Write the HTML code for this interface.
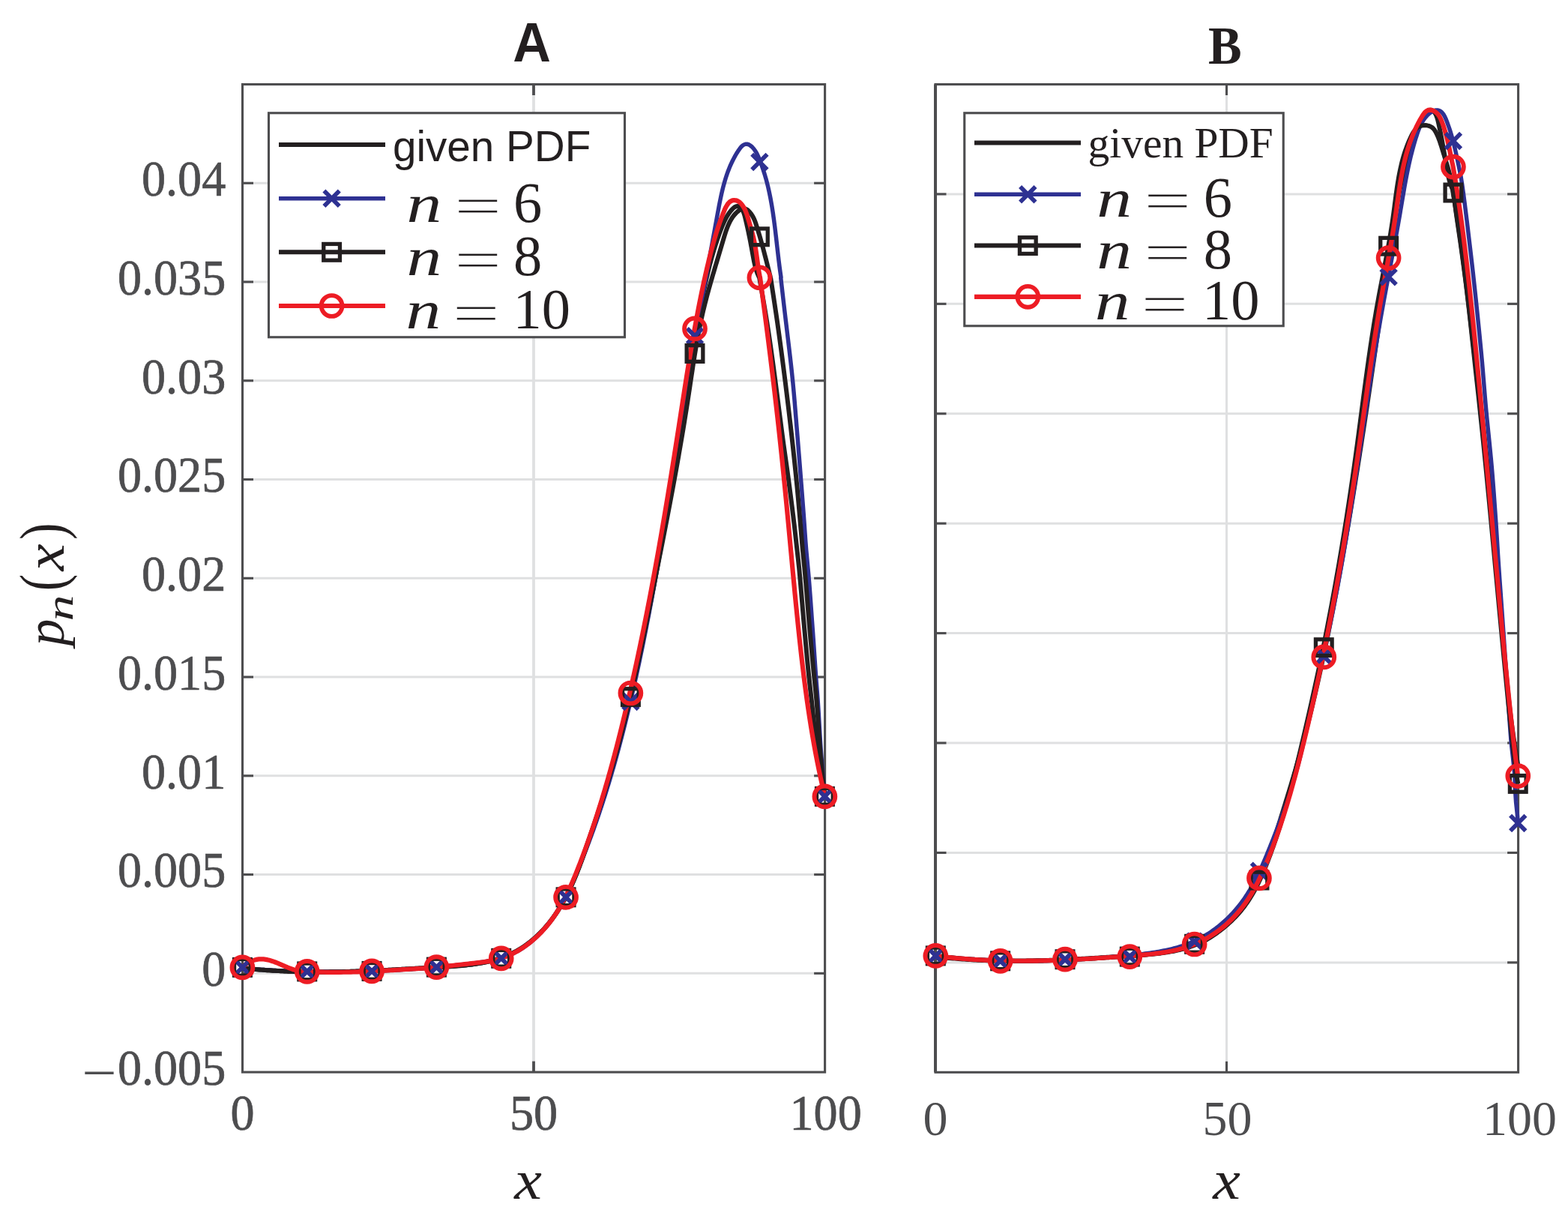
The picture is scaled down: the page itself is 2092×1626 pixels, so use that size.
<!DOCTYPE html>
<html lang="en">
<head>
<meta charset="utf-8">
<title>Figure: given PDF and approximations p_n(x), panels A and B</title>
<style>
html,body{margin:0;padding:0;background:#fff;}
svg{display:block;}
text{white-space:pre;}
</style>
</head>
<body>
<svg xmlns="http://www.w3.org/2000/svg" width="2092" height="1626" viewBox="0 0 2092 1626">
<rect width="2092" height="1626" fill="#fff"/>
<g>
<line x1="323.5" y1="1298.34" x2="1100.6" y2="1298.34" stroke="#dfe0e1" stroke-width="3"/>
<line x1="323.5" y1="1166.58" x2="1100.6" y2="1166.58" stroke="#dfe0e1" stroke-width="3"/>
<line x1="323.5" y1="1034.82" x2="1100.6" y2="1034.82" stroke="#dfe0e1" stroke-width="3"/>
<line x1="323.5" y1="903.06" x2="1100.6" y2="903.06" stroke="#dfe0e1" stroke-width="3"/>
<line x1="323.5" y1="771.3" x2="1100.6" y2="771.3" stroke="#dfe0e1" stroke-width="3"/>
<line x1="323.5" y1="639.54" x2="1100.6" y2="639.54" stroke="#dfe0e1" stroke-width="3"/>
<line x1="323.5" y1="507.78" x2="1100.6" y2="507.78" stroke="#dfe0e1" stroke-width="3"/>
<line x1="323.5" y1="376.02" x2="1100.6" y2="376.02" stroke="#dfe0e1" stroke-width="3"/>
<line x1="323.5" y1="244.26" x2="1100.6" y2="244.26" stroke="#dfe0e1" stroke-width="3"/>
<line x1="712" y1="112.5" x2="712" y2="1430.1" stroke="#dfe0e1" stroke-width="3.8"/>
<line x1="323.5" y1="1298.34" x2="338" y2="1298.34" stroke="#4d4d4f" stroke-width="3.1"/>
<line x1="1100.6" y1="1298.34" x2="1086.1" y2="1298.34" stroke="#4d4d4f" stroke-width="3.1"/>
<line x1="323.5" y1="1166.58" x2="338" y2="1166.58" stroke="#4d4d4f" stroke-width="3.1"/>
<line x1="1100.6" y1="1166.58" x2="1086.1" y2="1166.58" stroke="#4d4d4f" stroke-width="3.1"/>
<line x1="323.5" y1="1034.82" x2="338" y2="1034.82" stroke="#4d4d4f" stroke-width="3.1"/>
<line x1="1100.6" y1="1034.82" x2="1086.1" y2="1034.82" stroke="#4d4d4f" stroke-width="3.1"/>
<line x1="323.5" y1="903.06" x2="338" y2="903.06" stroke="#4d4d4f" stroke-width="3.1"/>
<line x1="1100.6" y1="903.06" x2="1086.1" y2="903.06" stroke="#4d4d4f" stroke-width="3.1"/>
<line x1="323.5" y1="771.3" x2="338" y2="771.3" stroke="#4d4d4f" stroke-width="3.1"/>
<line x1="1100.6" y1="771.3" x2="1086.1" y2="771.3" stroke="#4d4d4f" stroke-width="3.1"/>
<line x1="323.5" y1="639.54" x2="338" y2="639.54" stroke="#4d4d4f" stroke-width="3.1"/>
<line x1="1100.6" y1="639.54" x2="1086.1" y2="639.54" stroke="#4d4d4f" stroke-width="3.1"/>
<line x1="323.5" y1="507.78" x2="338" y2="507.78" stroke="#4d4d4f" stroke-width="3.1"/>
<line x1="1100.6" y1="507.78" x2="1086.1" y2="507.78" stroke="#4d4d4f" stroke-width="3.1"/>
<line x1="323.5" y1="376.02" x2="338" y2="376.02" stroke="#4d4d4f" stroke-width="3.1"/>
<line x1="1100.6" y1="376.02" x2="1086.1" y2="376.02" stroke="#4d4d4f" stroke-width="3.1"/>
<line x1="323.5" y1="244.26" x2="338" y2="244.26" stroke="#4d4d4f" stroke-width="3.1"/>
<line x1="1100.6" y1="244.26" x2="1086.1" y2="244.26" stroke="#4d4d4f" stroke-width="3.1"/>
<line x1="712" y1="112.5" x2="712" y2="127" stroke="#4d4d4f" stroke-width="3.8"/>
<line x1="712" y1="1430.1" x2="712" y2="1415.6" stroke="#4d4d4f" stroke-width="3.8"/>
<rect x="323.5" y="112.5" width="777.1" height="1317.6" fill="none" stroke="#4d4d4f" stroke-width="3.1"/>
</g>
<path d="M323.2 1291.25 L325.79 1291.52 L328.37 1291.79 L330.95 1292.05 L333.53 1292.3 L336.11 1292.54 L338.69 1292.77 L341.26 1292.99 L343.83 1293.21 L346.4 1293.42 L348.97 1293.62 L351.53 1293.81 L354.1 1294 L356.66 1294.18 L359.22 1294.35 L361.78 1294.51 L364.34 1294.66 L366.89 1294.81 L369.45 1294.95 L372 1295.09 L374.55 1295.21 L377.1 1295.34 L379.65 1295.45 L382.2 1295.56 L384.75 1295.66 L387.29 1295.75 L389.84 1295.84 L392.38 1295.92 L394.92 1295.99 L397.47 1296.06 L400.01 1296.12 L402.55 1296.18 L405.08 1296.23 L407.62 1296.28 L410.16 1296.32 L412.7 1296.35 L415.23 1296.38 L417.77 1296.4 L420.3 1296.42 L422.83 1296.43 L425.37 1296.43 L427.9 1296.43 L430.43 1296.43 L432.96 1296.42 L435.5 1296.41 L438.03 1296.39 L440.56 1296.37 L443.09 1296.34 L445.62 1296.31 L448.15 1296.27 L450.68 1296.23 L453.21 1296.18 L455.74 1296.13 L458.27 1296.08 L460.8 1296.02 L463.33 1295.96 L465.86 1295.9 L468.4 1295.83 L470.93 1295.76 L473.46 1295.68 L475.99 1295.6 L478.52 1295.52 L481.05 1295.43 L483.59 1295.34 L486.12 1295.25 L488.66 1295.15 L491.19 1295.05 L493.73 1294.95 L496.26 1294.85 L498.8 1294.74 L501.34 1294.63 L503.88 1294.52 L506.42 1294.4 L508.96 1294.28 L511.5 1294.16 L514.04 1294.04 L516.58 1293.92 L519.13 1293.79 L521.67 1293.66 L524.22 1293.53 L526.77 1293.4 L529.32 1293.27 L531.87 1293.13 L534.42 1293 L536.97 1292.86 L539.53 1292.72 L542.08 1292.58 L544.64 1292.44 L547.2 1292.3 L549.76 1292.15 L552.32 1292.01 L554.89 1291.86 L557.45 1291.72 L560.02 1291.57 L562.59 1291.43 L565.16 1291.28 L567.73 1291.13 L570.31 1290.98 L572.88 1290.83 L575.46 1290.68 L578.04 1290.54 L580.63 1290.39 L583.21 1290.24 L585.8 1290.09 L588.39 1289.94 L590.98 1289.79 L593.57 1289.63 L596.16 1289.47 L598.75 1289.31 L601.34 1289.13 L603.93 1288.95 L606.51 1288.76 L609.09 1288.56 L611.67 1288.34 L614.25 1288.12 L616.82 1287.88 L619.39 1287.62 L621.95 1287.35 L624.5 1287.06 L627.05 1286.76 L629.6 1286.43 L632.13 1286.08 L634.66 1285.71 L637.18 1285.32 L639.69 1284.9 L642.19 1284.45 L644.68 1283.98 L647.16 1283.49 L649.63 1282.96 L652.09 1282.4 L654.54 1281.81 L656.97 1281.19 L659.4 1280.54 L661.8 1279.85 L664.2 1279.12 L666.58 1278.36 L668.94 1277.56 L671.29 1276.72 L673.62 1275.84 L675.94 1274.92 L678.24 1273.95 L680.52 1272.94 L682.78 1271.89 L685.02 1270.79 L687.25 1269.64 L689.45 1268.45 L691.64 1267.2 L693.8 1265.91 L695.95 1264.57 L698.07 1263.18 L700.17 1261.76 L702.24 1260.29 L704.29 1258.77 L706.32 1257.22 L708.33 1255.63 L710.31 1254.01 L712.26 1252.34 L714.19 1250.65 L716.09 1248.92 L717.96 1247.16 L719.8 1245.36 L721.62 1243.54 L723.41 1241.69 L725.17 1239.81 L726.9 1237.91 L728.6 1235.99 L730.26 1234.04 L731.9 1232.07 L733.51 1230.08 L735.08 1228.07 L736.62 1226.04 L738.13 1223.99 L739.62 1221.92 L741.07 1219.84 L742.5 1217.74 L743.89 1215.62 L745.26 1213.48 L746.61 1211.33 L747.93 1209.17 L749.22 1206.99 L750.5 1204.79 L751.74 1202.58 L752.97 1200.36 L754.17 1198.12 L755.35 1195.87 L756.51 1193.61 L757.65 1191.33 L758.77 1189.05 L759.87 1186.75 L760.95 1184.44 L762.01 1182.13 L763.06 1179.8 L764.09 1177.46 L765.11 1175.12 L766.11 1172.77 L767.09 1170.41 L768.07 1168.04 L769.02 1165.66 L769.97 1163.28 L770.91 1160.89 L771.83 1158.5 L772.74 1156.1 L773.65 1153.7 L774.54 1151.3 L775.43 1148.89 L776.31 1146.47 L777.18 1144.06 L778.04 1141.64 L778.9 1139.22 L779.75 1136.8 L780.6 1134.37 L781.45 1131.95 L782.29 1129.53 L783.13 1127.1 L783.96 1124.68 L784.8 1122.26 L785.63 1119.84 L786.47 1117.43 L787.3 1115.01 L788.14 1112.6 L788.97 1110.18 L789.8 1107.77 L790.62 1105.36 L791.45 1102.95 L792.28 1100.54 L793.1 1098.13 L793.92 1095.72 L794.74 1093.31 L795.55 1090.9 L796.37 1088.5 L797.18 1086.09 L797.98 1083.68 L798.79 1081.27 L799.59 1078.86 L800.39 1076.45 L801.18 1074.04 L801.97 1071.62 L802.76 1069.21 L803.54 1066.79 L804.32 1064.38 L805.09 1061.96 L805.86 1059.54 L806.63 1057.12 L807.39 1054.69 L808.15 1052.27 L808.9 1049.84 L809.65 1047.41 L810.39 1044.98 L811.13 1042.55 L811.87 1040.12 L812.6 1037.68 L813.33 1035.25 L814.05 1032.81 L814.77 1030.37 L815.48 1027.93 L816.19 1025.48 L816.9 1023.04 L817.6 1020.59 L818.3 1018.15 L819 1015.7 L819.69 1013.25 L820.38 1010.8 L821.06 1008.34 L821.74 1005.89 L822.42 1003.43 L823.09 1000.98 L823.76 998.52 L824.42 996.06 L825.09 993.6 L825.75 991.14 L826.4 988.67 L827.05 986.21 L827.7 983.75 L828.35 981.28 L828.99 978.81 L829.63 976.34 L830.26 973.87 L830.89 971.4 L831.52 968.93 L832.15 966.46 L832.77 963.99 L833.39 961.51 L834.01 959.04 L834.62 956.56 L835.23 954.08 L835.84 951.6 L836.45 949.12 L837.05 946.64 L837.65 944.16 L838.25 941.68 L838.84 939.2 L839.43 936.72 L840.02 934.23 L840.61 931.75 L841.19 929.26 L841.77 926.78 L842.35 924.29 L842.93 921.81 L843.5 919.32 L844.07 916.83 L844.64 914.34 L845.21 911.85 L845.78 909.36 L846.34 906.87 L846.9 904.38 L847.46 901.89 L848.01 899.4 L848.57 896.91 L849.12 894.41 L849.67 891.92 L850.22 889.43 L850.76 886.93 L851.31 884.44 L851.85 881.95 L852.39 879.45 L852.93 876.96 L853.46 874.46 L854 871.97 L854.53 869.47 L855.06 866.98 L855.59 864.48 L856.12 861.98 L856.65 859.49 L857.17 856.99 L857.69 854.49 L858.22 852 L858.73 849.5 L859.25 847 L859.77 844.5 L860.28 842 L860.79 839.5 L861.31 837.01 L861.81 834.51 L862.32 832.01 L862.83 829.51 L863.33 827.01 L863.84 824.51 L864.34 822.01 L864.84 819.5 L865.33 817 L865.83 814.5 L866.33 812 L866.82 809.5 L867.31 807 L867.8 804.5 L868.29 801.99 L868.78 799.49 L869.27 796.99 L869.75 794.48 L870.23 791.98 L870.72 789.48 L871.2 786.97 L871.68 784.47 L872.15 781.97 L872.63 779.46 L873.11 776.96 L873.58 774.45 L874.05 771.95 L874.52 769.44 L874.99 766.94 L875.46 764.43 L875.93 761.92 L876.4 759.42 L876.86 756.91 L877.32 754.41 L877.79 751.9 L878.25 749.39 L878.71 746.89 L879.17 744.38 L879.62 741.87 L880.08 739.36 L880.54 736.86 L880.99 734.35 L881.44 731.84 L881.9 729.33 L882.35 726.82 L882.8 724.32 L883.25 721.81 L883.69 719.3 L884.14 716.79 L884.59 714.28 L885.03 711.77 L885.47 709.26 L885.92 706.75 L886.36 704.24 L886.8 701.73 L887.24 699.22 L887.68 696.71 L888.12 694.2 L888.55 691.69 L888.99 689.18 L889.42 686.67 L889.86 684.16 L890.29 681.65 L890.72 679.14 L891.16 676.62 L891.59 674.11 L892.02 671.6 L892.45 669.09 L892.87 666.58 L893.3 664.07 L893.73 661.55 L894.16 659.04 L894.58 656.53 L895.01 654.02 L895.43 651.5 L895.85 648.99 L896.28 646.48 L896.7 643.97 L897.12 641.45 L897.54 638.94 L897.96 636.43 L898.38 633.91 L898.8 631.4 L899.22 628.89 L899.63 626.37 L900.05 623.86 L900.47 621.35 L900.88 618.83 L901.3 616.32 L901.71 613.8 L902.13 611.29 L902.54 608.78 L902.95 606.26 L903.37 603.75 L903.78 601.23 L904.19 598.72 L904.6 596.21 L905.01 593.69 L905.42 591.18 L905.83 588.66 L906.24 586.15 L906.65 583.63 L907.06 581.12 L907.47 578.6 L907.88 576.09 L908.29 573.57 L908.69 571.06 L909.1 568.54 L909.51 566.03 L909.91 563.51 L910.32 561 L910.73 558.48 L911.13 555.97 L911.54 553.45 L911.94 550.94 L912.35 548.42 L912.75 545.91 L913.16 543.39 L913.56 540.88 L913.97 538.36 L914.37 535.85 L914.78 533.33 L915.18 530.82 L915.59 528.3 L915.99 525.79 L916.39 523.27 L916.8 520.75 L917.2 518.24 L917.61 515.72 L918.01 513.21 L918.41 510.69 L918.82 508.18 L919.22 505.66 L919.62 503.15 L920.03 500.63 L920.43 498.12 L920.84 495.6 L921.24 493.09 L921.64 490.57 L922.05 488.06 L922.45 485.54 L922.86 483.03 L923.26 480.51 L923.67 478 L924.07 475.48 L924.47 472.97 L924.88 470.45 L925.29 467.94 L925.69 465.42 L926.1 462.91 L926.5 460.39 L926.91 457.88 L927.32 455.36 L927.72 452.85 L928.13 450.33 L928.54 447.82 L928.94 445.3 L929.35 442.79 L929.76 440.28 L930.17 437.76 L930.59 435.25 L931 432.73 L931.42 430.22 L931.84 427.71 L932.26 425.2 L932.68 422.69 L933.11 420.18 L933.54 417.67 L933.98 415.16 L934.42 412.65 L934.86 410.14 L935.31 407.64 L935.77 405.13 L936.23 402.63 L936.7 400.13 L937.17 397.62 L937.65 395.12 L938.14 392.63 L938.63 390.13 L939.13 387.63 L939.64 385.14 L940.15 382.64 L940.68 380.15 L941.21 377.66 L941.75 375.18 L942.3 372.69 L942.86 370.21 L943.43 367.72 L944.01 365.24 L944.6 362.77 L945.2 360.29 L945.81 357.82 L946.44 355.35 L947.07 352.88 L947.72 350.41 L948.38 347.95 L949.05 345.48 L949.73 343.03 L950.43 340.57 L951.14 338.11 L951.86 335.66 L952.6 333.22 L953.35 330.77 L954.12 328.33 L954.9 325.89 L955.7 323.45 L956.51 321.02 L957.33 318.59 L958.18 316.16 L959.04 313.74 L959.92 311.32 L960.81 308.9 L961.72 306.49 L962.65 304.08 L963.61 301.68 L964.6 299.3 L965.64 296.94 L966.72 294.6 L967.87 292.3 L969.08 290.04 L970.38 287.83 L971.75 285.67 L973.22 283.56 L974.79 281.52 L976.48 279.55 L978.26 277.75 L980.11 276.27 L982.01 275.31 L983.93 275.02 L985.83 275.48 L987.62 276.58 L989.23 278.19 L990.59 280.19 L991.73 282.5 L992.69 285.04 L993.51 287.73 L994.24 290.51 L994.9 293.28 L995.54 296 L996.15 298.67 L996.74 301.28 L997.32 303.85 L997.87 306.38 L998.41 308.87 L998.93 311.34 L999.44 313.78 L999.93 316.2 L1000.42 318.62 L1000.89 321.03 L1001.36 323.44 L1001.82 325.85 L1002.28 328.28 L1002.73 330.72 L1003.18 333.19 L1003.63 335.68 L1004.08 338.21 L1004.54 340.77 L1005.02 343.35 L1005.51 345.94 L1006.03 348.54 L1006.58 351.12 L1007.17 353.69 L1007.82 356.22 L1008.52 358.72 L1009.28 361.17 L1010.11 363.57 L1011.01 365.89 L1012 368.14 L1013.08 370.29 L1013.09 370.3 L1015.17 382.03 L1017.24 393.76 L1019.28 405.49 L1021.25 417.22 L1023.15 428.95 L1024.97 440.68 L1026.71 452.41 L1028.4 464.14 L1030.05 475.87 L1031.66 487.61 L1033.23 499.34 L1034.78 511.07 L1036.31 522.8 L1037.83 534.53 L1039.34 546.26 L1040.85 557.99 L1042.36 569.72 L1043.9 581.45 L1045.49 593.18 L1047.15 604.91 L1048.83 616.64 L1050.48 628.37 L1052.08 640.1 L1053.63 651.83 L1055.16 663.56 L1056.67 675.29 L1058.12 687.02 L1059.52 698.75 L1060.88 710.48 L1062.2 722.22 L1063.51 733.95 L1064.84 745.68 L1066.11 757.41 L1067.2 769.14 L1068.24 780.87 L1069.24 792.6 L1070.24 804.33 L1071.24 816.06 L1072.25 827.79 L1073.3 839.52 L1074.36 851.25 L1075.42 862.98 L1076.51 874.71 L1077.64 886.44 L1078.81 898.17 L1080.05 909.9 L1081.36 921.63 L1082.7 933.36 L1083.97 945.09 L1085.22 956.83 L1086.49 968.56 L1087.81 980.29 L1089.25 992.02 L1090.83 1003.75 L1092.53 1015.48 L1094.35 1027.21 L1096.29 1038.94 L1098.36 1050.67 L1100.56 1062.4" fill="none" stroke="#231f20" stroke-width="6" stroke-linejoin="round" stroke-linecap="butt"/>
<path d="M323.4 1291.53 L326.23 1291.76 L329.05 1291.99 L331.87 1292.21 L334.7 1292.42 L337.53 1292.63 L340.35 1292.84 L343.18 1293.03 L346.01 1293.23 L348.83 1293.41 L351.66 1293.59 L354.49 1293.76 L357.32 1293.93 L360.15 1294.09 L362.98 1294.25 L365.81 1294.4 L368.64 1294.54 L371.47 1294.68 L374.3 1294.82 L377.14 1294.94 L379.97 1295.06 L382.8 1295.18 L385.63 1295.29 L388.47 1295.39 L391.3 1295.49 L394.13 1295.59 L396.97 1295.67 L399.8 1295.76 L402.64 1295.83 L405.47 1295.9 L408.3 1295.97 L411.14 1296.03 L413.97 1296.08 L416.81 1296.13 L419.64 1296.17 L422.48 1296.21 L425.31 1296.24 L428.15 1296.27 L430.99 1296.29 L433.82 1296.31 L436.66 1296.32 L439.49 1296.33 L442.33 1296.33 L445.16 1296.32 L448 1296.31 L450.83 1296.3 L453.67 1296.27 L456.5 1296.25 L459.34 1296.22 L462.17 1296.18 L465.01 1296.14 L467.84 1296.09 L470.68 1296.04 L473.51 1295.99 L476.34 1295.92 L479.18 1295.86 L482.01 1295.79 L484.84 1295.71 L487.68 1295.63 L490.51 1295.54 L493.34 1295.45 L496.17 1295.35 L499.01 1295.25 L501.84 1295.15 L504.67 1295.03 L507.5 1294.92 L510.33 1294.8 L513.16 1294.67 L515.99 1294.54 L518.82 1294.4 L521.65 1294.26 L524.48 1294.12 L527.31 1293.97 L530.14 1293.81 L532.96 1293.65 L535.79 1293.49 L538.62 1293.32 L541.45 1293.14 L544.28 1292.96 L547.1 1292.77 L549.93 1292.58 L552.76 1292.39 L555.58 1292.19 L558.41 1291.98 L561.24 1291.77 L564.06 1291.56 L566.89 1291.34 L569.72 1291.11 L572.54 1290.88 L575.37 1290.65 L578.2 1290.41 L581.02 1290.16 L583.85 1289.91 L586.67 1289.65 L589.5 1289.39 L592.32 1289.13 L595.15 1288.86 L597.97 1288.58 L600.8 1288.3 L603.62 1288.01 L606.45 1287.72 L609.27 1287.43 L612.1 1287.13 L614.93 1286.82 L617.75 1286.51 L620.58 1286.19 L623.4 1285.87 L626.23 1285.54 L629.05 1285.21 L631.87 1284.87 L634.7 1284.51 L637.51 1284.14 L640.32 1283.75 L643.13 1283.33 L645.93 1282.89 L648.72 1282.42 L651.5 1281.92 L654.27 1281.39 L657.03 1280.81 L659.77 1280.19 L662.51 1279.53 L665.22 1278.81 L667.92 1278.05 L670.61 1277.23 L673.27 1276.35 L675.92 1275.41 L678.54 1274.4 L681.14 1273.33 L683.72 1272.18 L686.28 1270.96 L688.81 1269.66 L691.31 1268.29 L693.79 1266.83 L696.23 1265.3 L698.65 1263.71 L701.02 1262.05 L703.36 1260.34 L705.66 1258.58 L707.92 1256.77 L710.14 1254.91 L712.31 1253.03 L714.43 1251.1 L716.51 1249.15 L718.54 1247.16 L720.54 1245.13 L722.49 1243.08 L724.39 1241 L726.26 1238.89 L728.09 1236.75 L729.88 1234.58 L731.64 1232.38 L733.35 1230.16 L735.04 1227.92 L736.69 1225.65 L738.3 1223.35 L739.88 1221.03 L741.44 1218.69 L742.96 1216.33 L744.45 1213.95 L745.92 1211.55 L747.35 1209.13 L748.76 1206.69 L750.15 1204.24 L751.51 1201.77 L752.85 1199.28 L754.16 1196.78 L755.46 1194.26 L756.73 1191.73 L757.98 1189.19 L759.22 1186.64 L760.44 1184.08 L761.64 1181.5 L762.83 1178.92 L764 1176.33 L765.15 1173.73 L766.3 1171.13 L767.43 1168.52 L768.56 1165.9 L769.67 1163.29 L770.78 1160.66 L771.87 1158.04 L772.96 1155.41 L774.05 1152.78 L775.12 1150.15 L776.19 1147.51 L777.25 1144.88 L778.3 1142.24 L779.35 1139.6 L780.39 1136.95 L781.42 1134.31 L782.44 1131.66 L783.46 1129.01 L784.47 1126.35 L785.48 1123.7 L786.47 1121.04 L787.46 1118.38 L788.45 1115.72 L789.42 1113.06 L790.4 1110.39 L791.36 1107.72 L792.32 1105.06 L793.27 1102.38 L794.21 1099.71 L795.15 1097.03 L796.08 1094.36 L797 1091.68 L797.92 1088.99 L798.84 1086.31 L799.74 1083.63 L800.64 1080.94 L801.54 1078.25 L802.43 1075.56 L803.31 1072.87 L804.19 1070.17 L805.06 1067.48 L805.92 1064.78 L806.78 1062.08 L807.63 1059.38 L808.48 1056.67 L809.32 1053.97 L810.16 1051.26 L810.99 1048.55 L811.82 1045.84 L812.64 1043.13 L813.45 1040.42 L814.26 1037.71 L815.07 1034.99 L815.87 1032.27 L816.66 1029.55 L817.45 1026.83 L818.24 1024.11 L819.02 1021.39 L819.79 1018.66 L820.56 1015.94 L821.32 1013.21 L822.08 1010.48 L822.84 1007.75 L823.59 1005.02 L824.34 1002.29 L825.08 999.55 L825.81 996.82 L826.55 994.08 L827.27 991.34 L828 988.6 L828.72 985.86 L829.43 983.12 L830.14 980.38 L830.85 977.64 L831.55 974.89 L832.25 972.15 L832.94 969.4 L833.63 966.65 L834.32 963.91 L835 961.16 L835.68 958.41 L836.36 955.65 L837.03 952.9 L837.69 950.15 L838.36 947.39 L839.02 944.64 L839.67 941.88 L840.33 939.13 L840.98 936.37 L841.62 933.61 L842.27 930.85 L842.91 928.09 L843.54 925.33 L844.18 922.57 L844.81 919.81 L845.43 917.04 L846.06 914.28 L846.68 911.52 L847.3 908.75 L847.91 905.99 L848.52 903.22 L849.13 900.45 L849.74 897.68 L850.34 894.92 L850.94 892.15 L851.53 889.38 L852.13 886.61 L852.72 883.83 L853.31 881.06 L853.89 878.29 L854.47 875.52 L855.05 872.74 L855.63 869.97 L856.2 867.19 L856.77 864.42 L857.34 861.64 L857.91 858.87 L858.47 856.09 L859.03 853.31 L859.59 850.53 L860.15 847.75 L860.7 844.97 L861.25 842.19 L861.8 839.41 L862.35 836.63 L862.89 833.85 L863.43 831.07 L863.97 828.28 L864.51 825.5 L865.05 822.72 L865.58 819.93 L866.11 817.15 L866.64 814.36 L867.16 811.58 L867.69 808.79 L868.21 806 L868.73 803.22 L869.25 800.43 L869.76 797.64 L870.28 794.85 L870.79 792.06 L871.3 789.28 L871.81 786.49 L872.32 783.7 L872.82 780.91 L873.32 778.11 L873.82 775.32 L874.32 772.53 L874.82 769.74 L875.32 766.95 L875.81 764.16 L876.3 761.36 L876.8 758.57 L877.28 755.78 L877.77 752.98 L878.26 750.19 L878.74 747.39 L879.23 744.6 L879.71 741.8 L880.19 739.01 L880.67 736.21 L881.15 733.42 L881.62 730.62 L882.1 727.82 L882.57 725.03 L883.05 722.23 L883.52 719.43 L883.99 716.64 L884.46 713.84 L884.93 711.04 L885.39 708.24 L885.86 705.44 L886.33 702.65 L886.79 699.85 L887.25 697.05 L887.72 694.25 L888.18 691.45 L888.64 688.65 L889.1 685.85 L889.56 683.05 L890.01 680.25 L890.47 677.45 L890.93 674.65 L891.38 671.85 L891.84 669.05 L892.29 666.25 L892.75 663.45 L893.2 660.65 L893.65 657.85 L894.1 655.05 L894.55 652.25 L895.01 649.45 L895.46 646.65 L895.91 643.85 L896.36 641.05 L896.8 638.25 L897.25 635.45 L897.7 632.64 L898.15 629.84 L898.6 627.04 L899.05 624.24 L899.49 621.44 L899.94 618.64 L900.39 615.84 L900.83 613.04 L901.28 610.24 L901.73 607.44 L902.17 604.64 L902.62 601.84 L903.07 599.04 L903.51 596.24 L903.96 593.44 L904.41 590.64 L904.86 587.84 L905.3 585.04 L905.75 582.24 L906.2 579.44 L906.65 576.64 L907.09 573.84 L907.54 571.04 L907.99 568.24 L908.44 565.44 L908.89 562.64 L909.34 559.84 L909.79 557.05 L910.24 554.25 L910.69 551.45 L911.14 548.65 L911.6 545.85 L912.05 543.06 L912.5 540.26 L912.96 537.46 L913.41 534.67 L913.87 531.87 L914.32 529.07 L914.78 526.28 L915.24 523.48 L915.69 520.69 L916.15 517.89 L916.61 515.1 L917.08 512.3 L917.54 509.51 L918 506.71 L918.46 503.92 L918.93 501.13 L919.39 498.33 L919.86 495.54 L920.33 492.75 L920.8 489.96 L921.27 487.17 L921.74 484.38 L922.21 481.59 L922.69 478.79 L923.16 476 L923.64 473.21 L924.11 470.43 L924.59 467.64 L925.07 464.85 L925.55 462.06 L926.03 459.27 L926.51 456.48 L926.99 453.69 L927.48 450.91 L927.96 448.12 L928.45 445.33 L928.94 442.54 L929.42 439.76 L929.91 436.97 L930.4 434.18 L930.89 431.39 L931.38 428.61 L931.87 425.82 L932.37 423.03 L932.86 420.25 L933.35 417.46 L933.85 414.68 L934.34 411.89 L934.84 409.1 L935.34 406.32 L935.83 403.53 L936.33 400.74 L936.83 397.96 L937.33 395.17 L937.83 392.38 L938.33 389.6 L938.84 386.81 L939.34 384.02 L939.84 381.23 L940.34 378.45 L940.85 375.66 L941.35 372.87 L941.86 370.08 L942.36 367.3 L942.87 364.51 L943.38 361.72 L943.88 358.93 L944.39 356.14 L944.9 353.35 L945.41 350.56 L945.91 347.77 L946.42 344.98 L946.93 342.19 L947.44 339.4 L947.95 336.61 L948.46 333.82 L948.97 331.02 L949.49 328.23 L950 325.44 L950.51 322.65 L951.02 319.85 L951.53 317.06 L952.05 314.26 L952.56 311.47 L953.07 308.67 L953.58 305.88 L954.1 303.08 L954.61 300.28 L955.12 297.49 L955.64 294.69 L956.15 291.89 L956.67 289.09 L957.18 286.29 L957.69 283.49 L958.21 280.69 L958.73 277.89 L959.26 275.1 L959.8 272.3 L960.35 269.51 L960.91 266.72 L961.48 263.94 L962.08 261.16 L962.69 258.39 L963.33 255.63 L963.98 252.87 L964.67 250.12 L965.38 247.39 L966.12 244.66 L966.9 241.94 L967.71 239.24 L968.55 236.54 L969.43 233.86 L970.36 231.2 L971.32 228.54 L972.33 225.91 L973.39 223.29 L974.5 220.68 L975.66 218.1 L976.87 215.53 L978.13 212.98 L979.46 210.45 L980.84 207.94 L982.29 205.46 L983.79 202.99 L985.37 200.55 L987.02 198.21 L988.76 196.08 L990.59 194.3 L992.55 192.99 L994.63 192.26 L996.84 192.25 L999.15 192.96 L1001.43 194.31 L1003.62 196.2 L1005.66 198.51 L1007.53 201.09 L1009.18 203.8 L1010.63 206.57 L1011.92 209.37 L1013.07 212.17 L1014.14 214.96 L1015.15 217.7 L1016.12 220.39 L1017.06 223.04 L1017.96 225.67 L1018.83 228.29 L1019.67 230.92 L1020.48 233.55 L1021.26 236.2 L1022.02 238.87 L1022.75 241.54 L1023.45 244.23 L1024.13 246.93 L1024.79 249.65 L1025.42 252.37 L1026.03 255.1 L1026.61 257.85 L1027.18 260.6 L1027.73 263.36 L1028.26 266.13 L1028.77 268.91 L1029.26 271.69 L1029.74 274.49 L1030.2 277.29 L1030.65 280.09 L1031.08 282.9 L1031.5 285.72 L1031.9 288.54 L1032.3 291.36 L1032.68 294.19 L1033.06 297.02 L1033.42 299.85 L1033.78 302.69 L1034.13 305.53 L1034.48 308.37 L1034.81 311.21 L1035.15 314.05 L1035.48 316.89 L1035.8 319.72 L1036.13 322.56 L1036.45 325.4 L1036.77 328.23 L1037.09 331.06 L1037.41 333.89 L1037.74 336.72 L1038.06 339.54 L1038.39 342.35 L1038.72 345.16 L1039.06 347.97 L1039.41 350.77 L1039.76 353.56 L1040.12 356.35 L1040.49 359.13 L1040.86 361.9 L1041.25 364.66 L1041.65 367.42 L1042.05 370.16 L1041.69 370.3 L1043.03 382.03 L1044.38 393.76 L1045.74 405.49 L1047.12 417.22 L1048.52 428.95 L1049.93 440.68 L1051.35 452.41 L1052.76 464.14 L1054.14 475.87 L1055.48 487.61 L1056.75 499.34 L1057.93 511.07 L1059.03 522.8 L1060.06 534.53 L1061.04 546.26 L1062 557.99 L1062.96 569.72 L1063.93 581.45 L1064.9 593.18 L1065.85 604.91 L1066.79 616.64 L1067.72 628.37 L1068.64 640.1 L1069.56 651.83 L1070.47 663.56 L1071.38 675.29 L1072.27 687.02 L1073.14 698.75 L1073.94 710.48 L1074.77 722.22 L1075.72 733.95 L1076.82 745.68 L1077.91 757.41 L1078.98 769.14 L1079.95 780.87 L1080.85 792.6 L1081.71 804.33 L1082.54 816.06 L1083.38 827.79 L1084.25 839.52 L1085.09 851.25 L1085.9 862.98 L1086.69 874.71 L1087.49 886.44 L1088.32 898.17 L1089.2 909.9 L1090.16 921.63 L1091.07 933.36 L1091.84 945.09 L1092.54 956.83 L1093.21 968.56 L1093.9 980.29 L1094.64 992.02 L1095.49 1003.75 L1096.39 1015.48 L1097.33 1027.21 L1098.33 1038.94 L1099.4 1050.67 L1100.56 1062.4" fill="none" stroke="#2e3192" stroke-width="5.5" stroke-linejoin="round" stroke-linecap="butt"/>
<path d="M323.19 1291.24 L325.78 1291.52 L328.36 1291.78 L330.94 1292.04 L333.52 1292.29 L336.1 1292.54 L338.68 1292.77 L341.25 1293 L343.82 1293.21 L346.39 1293.42 L348.96 1293.62 L351.52 1293.82 L354.09 1294 L356.65 1294.18 L359.21 1294.35 L361.77 1294.52 L364.32 1294.67 L366.88 1294.82 L369.43 1294.96 L371.98 1295.1 L374.54 1295.23 L377.08 1295.35 L379.63 1295.46 L382.18 1295.57 L384.72 1295.67 L387.27 1295.76 L389.81 1295.85 L392.35 1295.93 L394.89 1296 L397.43 1296.07 L399.97 1296.14 L402.51 1296.19 L405.04 1296.24 L407.58 1296.29 L410.11 1296.32 L412.65 1296.36 L415.18 1296.39 L417.71 1296.41 L420.25 1296.42 L422.78 1296.43 L425.31 1296.44 L427.84 1296.44 L430.37 1296.44 L432.9 1296.43 L435.43 1296.41 L437.96 1296.39 L440.48 1296.37 L443.01 1296.34 L445.54 1296.31 L448.07 1296.27 L450.6 1296.23 L453.12 1296.18 L455.65 1296.13 L458.18 1296.08 L460.71 1296.02 L463.23 1295.96 L465.76 1295.89 L468.29 1295.82 L470.82 1295.75 L473.35 1295.67 L475.88 1295.59 L478.41 1295.51 L480.94 1295.42 L483.47 1295.33 L486 1295.24 L488.53 1295.14 L491.06 1295.04 L493.6 1294.94 L496.13 1294.84 L498.66 1294.73 L501.2 1294.62 L503.74 1294.5 L506.27 1294.39 L508.81 1294.27 L511.35 1294.15 L513.89 1294.03 L516.43 1293.91 L518.97 1293.78 L521.52 1293.65 L524.06 1293.52 L526.61 1293.39 L529.15 1293.26 L531.7 1293.12 L534.25 1292.99 L536.8 1292.85 L539.36 1292.71 L541.91 1292.57 L544.47 1292.43 L547.03 1292.29 L549.59 1292.15 L552.15 1292 L554.71 1291.86 L557.27 1291.71 L559.84 1291.57 L562.41 1291.42 L564.98 1291.28 L567.55 1291.13 L570.13 1290.98 L572.7 1290.84 L575.28 1290.69 L577.86 1290.54 L580.45 1290.39 L583.03 1290.25 L585.62 1290.1 L588.21 1289.95 L590.8 1289.8 L593.39 1289.65 L595.98 1289.49 L598.57 1289.33 L601.16 1289.16 L603.75 1288.98 L606.34 1288.79 L608.92 1288.59 L611.5 1288.38 L614.08 1288.16 L616.65 1287.92 L619.22 1287.67 L621.78 1287.4 L624.34 1287.12 L626.89 1286.81 L629.43 1286.49 L631.97 1286.15 L634.5 1285.78 L637.02 1285.39 L639.53 1284.97 L642.03 1284.53 L644.52 1284.07 L647 1283.57 L649.47 1283.05 L651.93 1282.5 L654.38 1281.91 L656.81 1281.29 L659.23 1280.64 L661.64 1279.96 L664.03 1279.23 L666.41 1278.47 L668.77 1277.68 L671.12 1276.84 L673.45 1275.96 L675.76 1275.04 L678.06 1274.08 L680.33 1273.07 L682.59 1272.02 L684.83 1270.92 L687.05 1269.77 L689.25 1268.58 L691.43 1267.33 L693.59 1266.04 L695.73 1264.7 L697.84 1263.31 L699.94 1261.88 L702.01 1260.41 L704.05 1258.9 L706.07 1257.35 L708.07 1255.76 L710.05 1254.13 L711.99 1252.47 L713.91 1250.77 L715.81 1249.04 L717.68 1247.28 L719.52 1245.48 L721.33 1243.66 L723.12 1241.81 L724.88 1239.93 L726.6 1238.03 L728.3 1236.11 L729.97 1234.16 L731.61 1232.2 L733.21 1230.21 L734.79 1228.2 L736.34 1226.18 L737.85 1224.14 L739.34 1222.08 L740.8 1220 L742.23 1217.91 L743.64 1215.8 L745.02 1213.67 L746.37 1211.53 L747.7 1209.37 L749 1207.2 L750.28 1205.01 L751.54 1202.81 L752.77 1200.6 L753.99 1198.37 L755.18 1196.13 L756.35 1193.88 L757.5 1191.62 L758.63 1189.35 L759.74 1187.06 L760.83 1184.77 L761.91 1182.46 L762.96 1180.14 L764.01 1177.82 L765.03 1175.49 L766.04 1173.14 L767.04 1170.79 L768.02 1168.44 L768.99 1166.07 L769.94 1163.7 L770.89 1161.32 L771.82 1158.94 L772.74 1156.55 L773.65 1154.15 L774.55 1151.75 L775.44 1149.35 L776.33 1146.94 L777.2 1144.53 L778.07 1142.12 L778.93 1139.7 L779.79 1137.28 L780.64 1134.86 L781.48 1132.44 L782.32 1130.01 L783.16 1127.59 L784 1125.17 L784.83 1122.74 L785.66 1120.32 L786.49 1117.9 L787.31 1115.48 L788.14 1113.06 L788.96 1110.64 L789.78 1108.22 L790.6 1105.8 L791.42 1103.38 L792.23 1100.96 L793.04 1098.54 L793.85 1096.12 L794.66 1093.7 L795.46 1091.29 L796.27 1088.87 L797.07 1086.45 L797.86 1084.03 L798.66 1081.61 L799.45 1079.2 L800.24 1076.78 L801.03 1074.36 L801.81 1071.94 L802.59 1069.52 L803.37 1067.1 L804.14 1064.68 L804.91 1062.26 L805.68 1059.84 L806.44 1057.41 L807.2 1054.99 L807.96 1052.56 L808.72 1050.14 L809.47 1047.71 L810.21 1045.29 L810.96 1042.86 L811.69 1040.43 L812.43 1038 L813.16 1035.57 L813.89 1033.13 L814.61 1030.7 L815.33 1028.26 L816.05 1025.83 L816.76 1023.39 L817.46 1020.95 L818.17 1018.51 L818.86 1016.06 L819.56 1013.62 L820.25 1011.17 L820.94 1008.73 L821.62 1006.28 L822.3 1003.83 L822.97 1001.38 L823.64 998.92 L824.31 996.47 L824.97 994.01 L825.63 991.56 L826.29 989.1 L826.94 986.64 L827.59 984.18 L828.24 981.72 L828.88 979.26 L829.52 976.79 L830.15 974.33 L830.78 971.86 L831.41 969.39 L832.04 966.93 L832.66 964.46 L833.28 961.99 L833.89 959.51 L834.5 957.04 L835.11 954.57 L835.72 952.09 L836.32 949.62 L836.92 947.14 L837.52 944.67 L838.12 942.19 L838.71 939.71 L839.3 937.23 L839.88 934.75 L840.47 932.27 L841.05 929.78 L841.63 927.3 L842.2 924.82 L842.78 922.33 L843.35 919.85 L843.91 917.36 L844.48 914.87 L845.04 912.38 L845.6 909.9 L846.16 907.41 L846.72 904.92 L847.27 902.43 L847.83 899.94 L848.38 897.44 L848.92 894.95 L849.47 892.46 L850.01 889.97 L850.56 887.47 L851.1 884.98 L851.63 882.48 L852.17 879.99 L852.71 877.49 L853.24 875 L853.77 872.5 L854.3 870 L854.83 867.5 L855.35 865.01 L855.88 862.51 L856.4 860.01 L856.92 857.51 L857.44 855.01 L857.96 852.51 L858.48 850.01 L858.99 847.51 L859.51 845.01 L860.02 842.51 L860.54 840.01 L861.05 837.51 L861.56 835.01 L862.07 832.51 L862.57 830.01 L863.08 827.51 L863.59 825.01 L864.09 822.51 L864.6 820.01 L865.1 817.51 L865.6 815 L866.11 812.5 L866.61 810 L867.11 807.5 L867.61 805 L868.11 802.5 L868.61 800 L869.1 797.5 L869.6 795 L870.1 792.5 L870.6 790 L871.09 787.5 L871.59 785 L872.09 782.5 L872.58 780 L873.08 777.5 L873.58 775 L874.07 772.5 L874.57 770 L875.06 767.5 L875.56 765.01 L876.05 762.51 L876.55 760.01 L877.04 757.51 L877.54 755.02 L878.03 752.52 L878.52 750.02 L879.02 747.53 L879.51 745.03 L880 742.53 L880.49 740.04 L880.99 737.54 L881.48 735.05 L881.97 732.55 L882.46 730.05 L882.95 727.56 L883.44 725.06 L883.93 722.57 L884.41 720.07 L884.9 717.57 L885.39 715.08 L885.87 712.58 L886.36 710.09 L886.84 707.59 L887.33 705.1 L887.81 702.6 L888.29 700.1 L888.78 697.61 L889.26 695.11 L889.74 692.62 L890.22 690.12 L890.7 687.62 L891.17 685.13 L891.65 682.63 L892.13 680.13 L892.6 677.64 L893.08 675.14 L893.55 672.64 L894.02 670.15 L894.49 667.65 L894.96 665.15 L895.43 662.65 L895.9 660.15 L896.37 657.65 L896.83 655.16 L897.3 652.66 L897.76 650.16 L898.22 647.66 L898.69 645.16 L899.15 642.66 L899.6 640.16 L900.06 637.65 L900.52 635.15 L900.97 632.65 L901.43 630.15 L901.88 627.65 L902.33 625.14 L902.78 622.64 L903.23 620.14 L903.68 617.63 L904.12 615.13 L904.57 612.62 L905.01 610.11 L905.45 607.61 L905.89 605.1 L906.33 602.59 L906.76 600.09 L907.2 597.58 L907.63 595.07 L908.06 592.56 L908.49 590.05 L908.92 587.54 L909.35 585.03 L909.78 582.52 L910.2 580.01 L910.62 577.49 L911.04 574.98 L911.46 572.46 L911.88 569.95 L912.29 567.43 L912.7 564.92 L913.11 562.4 L913.52 559.88 L913.93 557.37 L914.34 554.85 L914.74 552.33 L915.14 549.81 L915.54 547.28 L915.94 544.76 L916.33 542.24 L916.73 539.72 L917.12 537.19 L917.51 534.67 L917.89 532.14 L918.28 529.61 L918.66 527.09 L919.04 524.56 L919.42 522.03 L919.8 519.5 L920.18 516.97 L920.56 514.44 L920.94 511.91 L921.31 509.38 L921.69 506.85 L922.07 504.32 L922.45 501.79 L922.83 499.26 L923.21 496.73 L923.6 494.2 L923.98 491.68 L924.37 489.15 L924.76 486.62 L925.15 484.1 L925.55 481.57 L925.95 479.05 L926.35 476.53 L926.75 474.01 L927.16 471.49 L927.58 468.97 L928 466.45 L928.42 463.94 L928.85 461.43 L929.29 458.91 L929.72 456.4 L930.17 453.9 L930.62 451.39 L931.08 448.89 L931.55 446.39 L932.02 443.89 L932.5 441.4 L932.98 438.9 L933.48 436.41 L933.98 433.93 L934.49 431.44 L935.01 428.96 L935.54 426.48 L936.08 424.01 L936.62 421.54 L937.18 419.07 L937.75 416.6 L938.32 414.14 L938.91 411.68 L939.51 409.23 L940.11 406.78 L940.72 404.33 L941.35 401.88 L941.98 399.43 L942.61 396.99 L943.26 394.55 L943.91 392.1 L944.57 389.66 L945.24 387.22 L945.91 384.78 L946.59 382.35 L947.28 379.91 L947.97 377.47 L948.67 375.03 L949.37 372.58 L950.08 370.14 L950.79 367.7 L951.5 365.25 L952.22 362.81 L952.95 360.36 L953.67 357.91 L954.4 355.45 L955.13 352.99 L955.87 350.53 L956.6 348.07 L957.34 345.6 L958.08 343.13 L958.82 340.66 L959.56 338.18 L960.31 335.69 L961.05 333.2 L961.79 330.71 L962.54 328.21 L963.28 325.7 L964.02 323.19 L964.76 320.67 L965.5 318.15 L966.25 315.63 L967.02 313.12 L967.81 310.62 L968.63 308.15 L969.49 305.7 L970.39 303.3 L971.34 300.93 L972.36 298.61 L973.45 296.35 L974.61 294.15 L975.86 292.02 L977.19 289.97 L978.63 288 L980.17 286.12 L981.82 284.34 L983.6 282.66 L985.5 281.1 L987.5 279.77 L989.59 278.78 L991.73 278.28 L993.9 278.38 L996.07 279.21 L998.19 280.77 L1000.19 282.81 L1001.97 285.04 L1003.52 287.33 L1004.85 289.64 L1006 291.99 L1007.01 294.36 L1007.91 296.76 L1008.73 299.16 L1009.5 301.58 L1010.26 304 L1011 306.42 L1011.74 308.85 L1012.46 311.28 L1013.18 313.71 L1013.89 316.14 L1014.59 318.58 L1015.28 321.03 L1015.96 323.47 L1016.64 325.92 L1017.31 328.37 L1017.97 330.82 L1018.63 333.28 L1019.28 335.74 L1019.92 338.2 L1020.56 340.66 L1021.2 343.12 L1021.83 345.59 L1022.46 348.05 L1023.09 350.52 L1023.71 352.99 L1024.34 355.47 L1024.96 357.94 L1025.58 360.41 L1026.19 362.89 L1026.81 365.37 L1027.43 367.84 L1028.05 370.32 L1028.09 370.3 L1029.92 382.03 L1031.73 393.76 L1033.5 405.49 L1035.26 417.22 L1036.98 428.95 L1038.63 440.68 L1040.24 452.41 L1041.83 464.14 L1043.39 475.87 L1044.92 487.61 L1046.43 499.34 L1047.92 511.07 L1049.37 522.8 L1050.8 534.53 L1052.2 546.26 L1053.58 557.99 L1054.94 569.72 L1056.27 581.45 L1057.58 593.18 L1058.87 604.91 L1060.13 616.64 L1061.36 628.37 L1062.55 640.1 L1063.69 651.83 L1064.78 663.56 L1065.83 675.29 L1066.87 687.02 L1067.9 698.75 L1068.89 710.48 L1069.88 722.22 L1070.92 733.95 L1072.1 745.68 L1073.31 757.41 L1074.39 769.14 L1075.41 780.87 L1076.39 792.6 L1077.34 804.33 L1078.3 816.06 L1079.27 827.79 L1080.29 839.52 L1081.34 851.25 L1082.41 862.98 L1083.51 874.71 L1084.64 886.44 L1085.79 898.17 L1086.98 909.9 L1088.2 921.63 L1089.33 933.36 L1090.29 945.09 L1091.1 956.83 L1091.85 968.56 L1092.61 980.29 L1093.45 992.02 L1094.44 1003.75 L1095.51 1015.48 L1096.65 1027.21 L1097.86 1038.94 L1099.16 1050.67 L1100.56 1062.4" fill="none" stroke="#231f20" stroke-width="6" stroke-linejoin="round" stroke-linecap="butt"/>
<path d="M323.39 1290.46 L324.52 1289.32 L325.7 1288.23 L326.93 1287.19 L328.19 1286.22 L329.49 1285.3 L330.82 1284.44 L332.19 1283.64 L333.58 1282.91 L335 1282.24 L336.45 1281.63 L337.91 1281.1 L339.39 1280.63 L340.89 1280.22 L342.4 1279.89 L343.92 1279.64 L345.45 1279.45 L346.98 1279.34 L348.52 1279.31 L350.05 1279.35 L351.58 1279.45 L353.11 1279.62 L354.64 1279.85 L356.16 1280.13 L357.67 1280.46 L359.18 1280.84 L360.68 1281.25 L362.17 1281.7 L363.65 1282.18 L365.12 1282.68 L366.59 1283.22 L368.05 1283.77 L369.51 1284.35 L370.96 1284.94 L372.41 1285.55 L373.85 1286.16 L375.3 1286.78 L376.74 1287.41 L378.18 1288.04 L379.62 1288.66 L381.06 1289.28 L382.51 1289.89 L383.96 1290.49 L385.41 1291.07 L386.86 1291.63 L388.33 1292.18 L389.79 1292.7 L391.26 1293.19 L392.74 1293.65 L394.23 1294.08 L395.73 1294.48 L397.24 1294.83 L398.76 1295.14 L400.28 1295.4 L401.83 1295.61 L403.38 1295.78 L404.95 1295.88 L406.53 1295.93 L408.12 1295.92 L409.74 1295.84 L409.73 1295.92 L412.65 1296.07 L415.58 1296.21 L418.5 1296.33 L421.42 1296.44 L424.35 1296.53 L427.27 1296.61 L430.19 1296.68 L433.11 1296.74 L436.04 1296.78 L438.96 1296.81 L441.88 1296.83 L444.8 1296.84 L447.73 1296.84 L450.65 1296.83 L453.57 1296.81 L456.49 1296.77 L459.41 1296.73 L462.33 1296.68 L465.26 1296.62 L468.18 1296.55 L471.1 1296.48 L474.02 1296.39 L476.94 1296.3 L479.86 1296.2 L482.78 1296.09 L485.7 1295.98 L488.62 1295.86 L491.54 1295.73 L494.46 1295.6 L497.39 1295.47 L500.31 1295.33 L503.23 1295.18 L506.15 1295.03 L509.07 1294.88 L511.99 1294.72 L514.91 1294.56 L517.83 1294.4 L520.75 1294.23 L523.67 1294.06 L526.59 1293.89 L529.51 1293.72 L532.43 1293.55 L535.35 1293.37 L538.27 1293.2 L541.19 1293.03 L544.11 1292.85 L547.03 1292.67 L549.95 1292.5 L552.87 1292.32 L555.78 1292.13 L558.7 1291.94 L561.62 1291.75 L564.53 1291.55 L567.45 1291.34 L570.36 1291.12 L573.27 1290.9 L576.18 1290.66 L579.09 1290.42 L582 1290.16 L584.9 1289.9 L587.8 1289.62 L590.71 1289.33 L593.61 1289.03 L596.51 1288.72 L599.41 1288.41 L602.31 1288.1 L605.21 1287.77 L608.12 1287.45 L611.02 1287.12 L613.93 1286.79 L616.84 1286.46 L619.76 1286.14 L622.68 1285.81 L625.6 1285.49 L628.53 1285.18 L631.46 1284.86 L634.39 1284.53 L637.32 1284.19 L640.24 1283.83 L643.16 1283.45 L646.08 1283.04 L648.98 1282.59 L651.87 1282.11 L654.74 1281.58 L657.61 1281 L660.45 1280.36 L663.27 1279.66 L666.08 1278.89 L668.85 1278.05 L671.61 1277.14 L674.33 1276.14 L677.04 1275.08 L679.71 1273.94 L682.35 1272.73 L684.97 1271.46 L687.55 1270.12 L690.11 1268.71 L692.63 1267.24 L695.13 1265.71 L697.59 1264.12 L700.01 1262.48 L702.41 1260.77 L704.76 1259.02 L707.09 1257.21 L709.37 1255.36 L711.63 1253.45 L713.84 1251.5 L716.01 1249.51 L718.15 1247.47 L720.25 1245.4 L722.3 1243.28 L724.32 1241.13 L726.3 1238.94 L728.23 1236.72 L730.12 1234.47 L731.96 1232.19 L733.77 1229.89 L735.53 1227.55 L737.24 1225.19 L738.92 1222.81 L740.56 1220.4 L742.15 1217.97 L743.72 1215.52 L745.24 1213.05 L746.74 1210.55 L748.19 1208.04 L749.62 1205.51 L751.02 1202.96 L752.39 1200.39 L753.73 1197.81 L755.04 1195.21 L756.33 1192.6 L757.59 1189.97 L758.83 1187.33 L760.05 1184.68 L761.25 1182.02 L762.44 1179.35 L763.6 1176.67 L764.75 1173.98 L765.88 1171.28 L767 1168.58 L768.1 1165.87 L769.2 1163.15 L770.28 1160.44 L771.36 1157.71 L772.43 1154.99 L773.49 1152.26 L774.54 1149.53 L775.58 1146.8 L776.62 1144.06 L777.65 1141.32 L778.68 1138.58 L779.69 1135.84 L780.7 1133.1 L781.7 1130.35 L782.7 1127.6 L783.69 1124.85 L784.67 1122.09 L785.64 1119.33 L786.61 1116.57 L787.57 1113.81 L788.52 1111.05 L789.47 1108.28 L790.41 1105.51 L791.35 1102.74 L792.28 1099.97 L793.2 1097.2 L794.11 1094.42 L795.02 1091.64 L795.93 1088.86 L796.82 1086.08 L797.71 1083.29 L798.6 1080.51 L799.48 1077.72 L800.35 1074.93 L801.22 1072.14 L802.08 1069.34 L802.94 1066.55 L803.79 1063.75 L804.63 1060.95 L805.47 1058.15 L806.31 1055.35 L807.14 1052.55 L807.96 1049.74 L808.78 1046.94 L809.59 1044.13 L810.4 1041.32 L811.21 1038.51 L812 1035.69 L812.8 1032.88 L813.59 1030.06 L814.37 1027.25 L815.15 1024.43 L815.93 1021.61 L816.7 1018.79 L817.46 1015.97 L818.23 1013.14 L818.98 1010.32 L819.74 1007.49 L820.49 1004.67 L821.23 1001.84 L821.97 999.01 L822.71 996.18 L823.44 993.35 L824.17 990.52 L824.89 987.69 L825.62 984.85 L826.33 982.02 L827.05 979.18 L827.76 976.35 L828.47 973.51 L829.17 970.67 L829.87 967.84 L830.57 965 L831.26 962.16 L831.95 959.32 L832.64 956.48 L833.32 953.63 L834 950.79 L834.68 947.95 L835.36 945.11 L836.03 942.26 L836.7 939.42 L837.37 936.57 L838.03 933.73 L838.69 930.88 L839.35 928.04 L840.01 925.19 L840.66 922.34 L841.31 919.5 L841.96 916.65 L842.61 913.8 L843.25 910.95 L843.89 908.1 L844.53 905.25 L845.16 902.4 L845.79 899.55 L846.42 896.7 L847.05 893.85 L847.68 890.99 L848.3 888.14 L848.92 885.29 L849.53 882.43 L850.15 879.58 L850.76 876.73 L851.37 873.87 L851.98 871.01 L852.58 868.16 L853.19 865.3 L853.79 862.44 L854.38 859.59 L854.98 856.73 L855.57 853.87 L856.16 851.01 L856.75 848.15 L857.34 845.29 L857.92 842.43 L858.51 839.57 L859.08 836.71 L859.66 833.85 L860.24 830.99 L860.81 828.12 L861.38 825.26 L861.95 822.4 L862.52 819.53 L863.08 816.67 L863.65 813.81 L864.21 810.94 L864.76 808.07 L865.32 805.21 L865.88 802.34 L866.43 799.48 L866.98 796.61 L867.53 793.74 L868.07 790.87 L868.62 788 L869.16 785.13 L869.7 782.27 L870.24 779.4 L870.78 776.53 L871.31 773.65 L871.85 770.78 L872.38 767.91 L872.91 765.04 L873.44 762.17 L873.96 759.29 L874.49 756.42 L875.01 753.55 L875.53 750.67 L876.05 747.8 L876.57 744.93 L877.09 742.05 L877.6 739.17 L878.12 736.3 L878.63 733.42 L879.14 730.55 L879.65 727.67 L880.15 724.79 L880.66 721.91 L881.16 719.03 L881.66 716.16 L882.17 713.28 L882.66 710.4 L883.16 707.52 L883.66 704.64 L884.15 701.76 L884.65 698.87 L885.14 695.99 L885.63 693.11 L886.12 690.23 L886.61 687.35 L887.1 684.46 L887.58 681.58 L888.07 678.7 L888.55 675.81 L889.03 672.93 L889.51 670.04 L889.99 667.16 L890.47 664.27 L890.95 661.39 L891.42 658.5 L891.9 655.61 L892.37 652.73 L892.85 649.84 L893.32 646.95 L893.79 644.06 L894.26 641.18 L894.73 638.29 L895.19 635.4 L895.66 632.51 L896.13 629.62 L896.59 626.73 L897.05 623.84 L897.52 620.95 L897.98 618.06 L898.44 615.17 L898.9 612.27 L899.36 609.38 L899.82 606.49 L900.27 603.6 L900.73 600.7 L901.19 597.81 L901.64 594.92 L902.1 592.02 L902.55 589.13 L903 586.23 L903.46 583.34 L903.91 580.44 L904.36 577.55 L904.81 574.65 L905.26 571.75 L905.71 568.86 L906.15 565.96 L906.6 563.06 L907.05 560.17 L907.5 557.27 L907.94 554.37 L908.39 551.47 L908.84 548.58 L909.29 545.68 L909.73 542.78 L910.18 539.88 L910.63 536.99 L911.08 534.09 L911.53 531.19 L911.98 528.29 L912.43 525.4 L912.88 522.5 L913.33 519.6 L913.78 516.71 L914.24 513.81 L914.69 510.92 L915.15 508.02 L915.61 505.13 L916.07 502.23 L916.53 499.34 L916.99 496.45 L917.46 493.56 L917.92 490.67 L918.39 487.78 L918.86 484.89 L919.34 482 L919.81 479.11 L920.29 476.22 L920.77 473.34 L921.25 470.45 L921.73 467.57 L922.22 464.68 L922.71 461.8 L923.2 458.92 L923.7 456.04 L924.2 453.16 L924.7 450.28 L925.2 447.41 L925.71 444.53 L926.22 441.66 L926.74 438.79 L927.26 435.92 L927.78 433.05 L928.31 430.18 L928.84 427.31 L929.37 424.45 L929.91 421.58 L930.45 418.72 L930.99 415.86 L931.55 413 L932.1 410.15 L932.66 407.29 L933.22 404.44 L933.79 401.59 L934.36 398.74 L934.94 395.89 L935.52 393.04 L936.11 390.2 L936.71 387.36 L937.3 384.52 L937.91 381.68 L938.52 378.84 L939.13 376.01 L939.75 373.18 L940.38 370.35 L941.01 367.53 L941.64 364.7 L942.29 361.88 L942.94 359.06 L943.59 356.24 L944.25 353.43 L944.92 350.62 L945.59 347.81 L946.27 345 L946.97 342.19 L947.67 339.38 L948.38 336.58 L949.11 333.77 L949.85 330.96 L950.6 328.14 L951.37 325.32 L952.16 322.5 L952.97 319.67 L953.8 316.84 L954.65 314 L955.52 311.15 L956.42 308.29 L957.35 305.43 L958.29 302.55 L959.27 299.66 L960.28 296.77 L961.32 293.86 L962.38 290.93 L963.49 288 L964.62 285.04 L965.8 282.09 L967.03 279.2 L968.35 276.44 L969.78 273.9 L971.35 271.64 L973.08 269.76 L974.99 268.31 L977.1 267.39 L979.39 267.02 L981.74 267.22 L984.08 268.02 L986.31 269.4 L988.39 271.25 L990.26 273.45 L991.91 275.9 L993.36 278.55 L994.64 281.35 L995.79 284.27 L996.82 287.25 L997.76 290.26 L998.66 293.25 L999.52 296.17 L1000.36 299.04 L1001.18 301.86 L1001.97 304.64 L1002.73 307.39 L1003.46 310.12 L1004.17 312.84 L1004.84 315.57 L1005.49 318.3 L1006.1 321.05 L1006.68 323.84 L1007.23 326.66 L1007.75 329.53 L1008.23 332.46 L1008.69 335.43 L1009.12 338.43 L1009.54 341.45 L1009.95 344.48 L1010.36 347.5 L1010.76 350.52 L1011.17 353.51 L1011.6 356.46 L1012.04 359.37 L1012.5 362.21 L1013 364.99 L1013.52 367.69 L1014.09 370.3 L1014.09 370.3 L1015.64 382.03 L1017.19 393.76 L1018.73 405.49 L1020.27 417.22 L1021.79 428.95 L1023.31 440.68 L1024.81 452.41 L1026.29 464.14 L1027.76 475.87 L1029.21 487.61 L1030.64 499.34 L1032.05 511.07 L1033.44 522.8 L1034.81 534.53 L1036.15 546.26 L1037.48 557.99 L1038.78 569.72 L1040.06 581.45 L1041.32 593.18 L1042.56 604.91 L1043.78 616.64 L1044.97 628.37 L1046.15 640.1 L1047.32 651.83 L1048.46 663.56 L1049.6 675.29 L1050.72 687.02 L1051.83 698.75 L1052.93 710.48 L1054.03 722.22 L1055.12 733.95 L1056.22 745.68 L1057.31 757.41 L1058.42 769.14 L1059.53 780.87 L1060.65 792.6 L1061.79 804.33 L1062.95 816.06 L1064.13 827.79 L1065.34 839.52 L1066.58 851.25 L1067.86 862.98 L1069.18 874.71 L1070.55 886.44 L1071.97 898.17 L1073.45 909.9 L1074.99 921.63 L1076.59 933.36 L1078.27 945.09 L1080.04 956.83 L1081.88 968.56 L1083.82 980.29 L1085.86 992.02 L1088 1003.75 L1090.26 1015.48 L1092.64 1027.21 L1095.14 1038.94 L1097.78 1050.67 L1100.56 1062.4" fill="none" stroke="#ed1c24" stroke-width="6.2" stroke-linejoin="round" stroke-linecap="butt"/>
<path d="M313.2 1280.2L333.6 1300.6M313.2 1300.6L333.6 1280.2" fill="none" stroke="#2e3192" stroke-width="5.7"/>
<path d="M399.53 1285.7L419.93 1306.1M399.53 1306.1L419.93 1285.7" fill="none" stroke="#2e3192" stroke-width="5.7"/>
<path d="M485.86 1285.2L506.26 1305.6M485.86 1305.6L506.26 1285.2" fill="none" stroke="#2e3192" stroke-width="5.7"/>
<path d="M572.19 1279.9L592.59 1300.3M572.19 1300.3L592.59 1279.9" fill="none" stroke="#2e3192" stroke-width="5.7"/>
<path d="M658.52 1268.1L678.92 1288.5M658.52 1288.5L678.92 1268.1" fill="none" stroke="#2e3192" stroke-width="5.7"/>
<path d="M744.85 1186.6L765.25 1207M744.85 1207L765.25 1186.6" fill="none" stroke="#2e3192" stroke-width="5.7"/>
<path d="M831.18 925.8L851.58 946.2M831.18 946.2L851.58 925.8" fill="none" stroke="#2e3192" stroke-width="5.7"/>
<path d="M916.8 437.9L937.2 458.3M916.8 458.3L937.2 437.9" fill="none" stroke="#2e3192" stroke-width="5.7"/>
<path d="M1003.2 205.8L1023.6 226.2M1003.2 226.2L1023.6 205.8" fill="none" stroke="#2e3192" stroke-width="5.7"/>
<path d="M1090.17 1052.2L1110.57 1072.6M1090.17 1072.6L1110.57 1052.2" fill="none" stroke="#2e3192" stroke-width="5.7"/>
<rect x="312.55" y="1279.55" width="21.7" height="21.7" fill="none" stroke="#231f20" stroke-width="5.3"/>
<rect x="398.88" y="1285.05" width="21.7" height="21.7" fill="none" stroke="#231f20" stroke-width="5.3"/>
<rect x="485.21" y="1284.55" width="21.7" height="21.7" fill="none" stroke="#231f20" stroke-width="5.3"/>
<rect x="571.54" y="1279.25" width="21.7" height="21.7" fill="none" stroke="#231f20" stroke-width="5.3"/>
<rect x="657.87" y="1267.45" width="21.7" height="21.7" fill="none" stroke="#231f20" stroke-width="5.3"/>
<rect x="744.2" y="1185.95" width="21.7" height="21.7" fill="none" stroke="#231f20" stroke-width="5.3"/>
<rect x="830.53" y="918.75" width="21.7" height="21.7" fill="none" stroke="#231f20" stroke-width="5.3"/>
<rect x="916.15" y="460.65" width="21.7" height="21.7" fill="none" stroke="#231f20" stroke-width="5.3"/>
<rect x="1002.55" y="304.95" width="21.7" height="21.7" fill="none" stroke="#231f20" stroke-width="5.3"/>
<rect x="1089.52" y="1051.55" width="21.7" height="21.7" fill="none" stroke="#231f20" stroke-width="5.3"/>
<circle cx="323.4" cy="1290.4" r="13.9" fill="none" stroke="#ed1c24" stroke-width="5.9"/>
<circle cx="409.73" cy="1295.9" r="13.9" fill="none" stroke="#ed1c24" stroke-width="5.9"/>
<circle cx="496.06" cy="1295.4" r="13.9" fill="none" stroke="#ed1c24" stroke-width="5.9"/>
<circle cx="582.39" cy="1290.1" r="13.9" fill="none" stroke="#ed1c24" stroke-width="5.9"/>
<circle cx="668.72" cy="1278.3" r="13.9" fill="none" stroke="#ed1c24" stroke-width="5.9"/>
<circle cx="755.05" cy="1196.8" r="13.9" fill="none" stroke="#ed1c24" stroke-width="5.9"/>
<circle cx="841.38" cy="924.5" r="13.9" fill="none" stroke="#ed1c24" stroke-width="5.9"/>
<circle cx="927" cy="438.4" r="13.9" fill="none" stroke="#ed1c24" stroke-width="5.9"/>
<circle cx="1013.4" cy="370.3" r="13.9" fill="none" stroke="#ed1c24" stroke-width="5.9"/>
<circle cx="1100.37" cy="1062.4" r="13.9" fill="none" stroke="#ed1c24" stroke-width="5.9"/>
<g>
<line x1="1248" y1="1283.88" x2="2025.6" y2="1283.88" stroke="#dfe0e1" stroke-width="3"/>
<line x1="1248" y1="1137.46" x2="2025.6" y2="1137.46" stroke="#dfe0e1" stroke-width="3"/>
<line x1="1248" y1="991.03" x2="2025.6" y2="991.03" stroke="#dfe0e1" stroke-width="3"/>
<line x1="1248" y1="844.61" x2="2025.6" y2="844.61" stroke="#dfe0e1" stroke-width="3"/>
<line x1="1248" y1="698.19" x2="2025.6" y2="698.19" stroke="#dfe0e1" stroke-width="3"/>
<line x1="1248" y1="551.77" x2="2025.6" y2="551.77" stroke="#dfe0e1" stroke-width="3"/>
<line x1="1248" y1="405.34" x2="2025.6" y2="405.34" stroke="#dfe0e1" stroke-width="3"/>
<line x1="1248" y1="258.92" x2="2025.6" y2="258.92" stroke="#dfe0e1" stroke-width="3"/>
<line x1="1636.5" y1="112.5" x2="1636.5" y2="1430.3" stroke="#dfe0e1" stroke-width="3.1"/>
<line x1="1248" y1="1283.88" x2="1262.5" y2="1283.88" stroke="#4d4d4f" stroke-width="3.1"/>
<line x1="2025.6" y1="1283.88" x2="2011.1" y2="1283.88" stroke="#4d4d4f" stroke-width="3.1"/>
<line x1="1248" y1="1137.46" x2="1262.5" y2="1137.46" stroke="#4d4d4f" stroke-width="3.1"/>
<line x1="2025.6" y1="1137.46" x2="2011.1" y2="1137.46" stroke="#4d4d4f" stroke-width="3.1"/>
<line x1="1248" y1="991.03" x2="1262.5" y2="991.03" stroke="#4d4d4f" stroke-width="3.1"/>
<line x1="2025.6" y1="991.03" x2="2011.1" y2="991.03" stroke="#4d4d4f" stroke-width="3.1"/>
<line x1="1248" y1="844.61" x2="1262.5" y2="844.61" stroke="#4d4d4f" stroke-width="3.1"/>
<line x1="2025.6" y1="844.61" x2="2011.1" y2="844.61" stroke="#4d4d4f" stroke-width="3.1"/>
<line x1="1248" y1="698.19" x2="1262.5" y2="698.19" stroke="#4d4d4f" stroke-width="3.1"/>
<line x1="2025.6" y1="698.19" x2="2011.1" y2="698.19" stroke="#4d4d4f" stroke-width="3.1"/>
<line x1="1248" y1="551.77" x2="1262.5" y2="551.77" stroke="#4d4d4f" stroke-width="3.1"/>
<line x1="2025.6" y1="551.77" x2="2011.1" y2="551.77" stroke="#4d4d4f" stroke-width="3.1"/>
<line x1="1248" y1="405.34" x2="1262.5" y2="405.34" stroke="#4d4d4f" stroke-width="3.1"/>
<line x1="2025.6" y1="405.34" x2="2011.1" y2="405.34" stroke="#4d4d4f" stroke-width="3.1"/>
<line x1="1248" y1="258.92" x2="1262.5" y2="258.92" stroke="#4d4d4f" stroke-width="3.1"/>
<line x1="2025.6" y1="258.92" x2="2011.1" y2="258.92" stroke="#4d4d4f" stroke-width="3.1"/>
<line x1="1636.5" y1="112.5" x2="1636.5" y2="127" stroke="#4d4d4f" stroke-width="3.1"/>
<line x1="1636.5" y1="1430.3" x2="1636.5" y2="1415.8" stroke="#4d4d4f" stroke-width="3.1"/>
<rect x="1248" y="112.5" width="777.6" height="1317.8" fill="none" stroke="#4d4d4f" stroke-width="3.1"/>
<line x1="1248" y1="112.5" x2="1248" y2="1430.3" stroke="#4d4d4f" stroke-width="4"/>
</g>
<path d="M1248.1 1276 L1250.69 1276.3 L1253.27 1276.6 L1255.85 1276.89 L1258.43 1277.16 L1261.01 1277.43 L1263.59 1277.69 L1266.16 1277.94 L1268.73 1278.18 L1271.3 1278.41 L1273.87 1278.63 L1276.43 1278.85 L1279 1279.05 L1281.56 1279.25 L1284.12 1279.44 L1286.68 1279.62 L1289.24 1279.79 L1291.79 1279.96 L1294.35 1280.11 L1296.9 1280.26 L1299.45 1280.4 L1302 1280.54 L1304.55 1280.66 L1307.1 1280.78 L1309.65 1280.9 L1312.19 1281 L1314.74 1281.1 L1317.28 1281.19 L1319.82 1281.27 L1322.37 1281.35 L1324.91 1281.42 L1327.45 1281.48 L1329.98 1281.53 L1332.52 1281.58 L1335.06 1281.63 L1337.6 1281.66 L1340.13 1281.7 L1342.67 1281.72 L1345.2 1281.74 L1347.73 1281.75 L1350.27 1281.76 L1352.8 1281.76 L1355.33 1281.76 L1357.86 1281.75 L1360.4 1281.73 L1362.93 1281.71 L1365.46 1281.69 L1367.99 1281.65 L1370.52 1281.62 L1373.05 1281.58 L1375.58 1281.53 L1378.11 1281.48 L1380.64 1281.43 L1383.17 1281.37 L1385.7 1281.3 L1388.23 1281.24 L1390.76 1281.16 L1393.3 1281.09 L1395.83 1281.01 L1398.36 1280.92 L1400.89 1280.83 L1403.42 1280.74 L1405.95 1280.64 L1408.49 1280.54 L1411.02 1280.44 L1413.56 1280.33 L1416.09 1280.22 L1418.63 1280.11 L1421.16 1279.99 L1423.7 1279.87 L1426.24 1279.75 L1428.78 1279.63 L1431.32 1279.5 L1433.86 1279.37 L1436.4 1279.24 L1438.94 1279.1 L1441.48 1278.96 L1444.03 1278.82 L1446.57 1278.68 L1449.12 1278.54 L1451.67 1278.39 L1454.22 1278.24 L1456.77 1278.09 L1459.32 1277.94 L1461.87 1277.79 L1464.43 1277.63 L1466.98 1277.48 L1469.54 1277.32 L1472.1 1277.16 L1474.66 1277 L1477.22 1276.84 L1479.79 1276.68 L1482.35 1276.52 L1484.92 1276.36 L1487.49 1276.19 L1490.06 1276.03 L1492.63 1275.87 L1495.21 1275.7 L1497.78 1275.54 L1500.36 1275.37 L1502.94 1275.21 L1505.53 1275.04 L1508.11 1274.88 L1510.7 1274.71 L1513.29 1274.54 L1515.88 1274.38 L1518.47 1274.2 L1521.06 1274.02 L1523.65 1273.84 L1526.24 1273.65 L1528.83 1273.44 L1531.41 1273.23 L1533.99 1273.01 L1536.57 1272.77 L1539.15 1272.52 L1541.72 1272.25 L1544.29 1271.97 L1546.85 1271.67 L1549.4 1271.35 L1551.95 1271 L1554.5 1270.64 L1557.03 1270.25 L1559.56 1269.84 L1562.08 1269.4 L1564.59 1268.94 L1567.09 1268.45 L1569.58 1267.92 L1572.06 1267.37 L1574.53 1266.79 L1576.99 1266.17 L1579.44 1265.51 L1581.87 1264.82 L1584.3 1264.1 L1586.7 1263.33 L1589.1 1262.52 L1591.48 1261.68 L1593.84 1260.79 L1596.19 1259.85 L1598.52 1258.87 L1600.84 1257.85 L1603.14 1256.78 L1605.42 1255.66 L1607.68 1254.48 L1609.92 1253.26 L1612.15 1251.99 L1614.35 1250.66 L1616.54 1249.27 L1618.7 1247.84 L1620.85 1246.35 L1622.97 1244.81 L1625.07 1243.22 L1627.14 1241.59 L1629.19 1239.91 L1631.22 1238.19 L1633.23 1236.42 L1635.21 1234.61 L1637.16 1232.76 L1639.09 1230.88 L1640.99 1228.96 L1642.86 1227 L1644.7 1225 L1646.52 1222.98 L1648.31 1220.92 L1650.07 1218.84 L1651.8 1216.73 L1653.5 1214.58 L1655.16 1212.42 L1656.8 1210.23 L1658.41 1208.02 L1659.98 1205.78 L1661.52 1203.53 L1663.03 1201.25 L1664.52 1198.96 L1665.97 1196.64 L1667.4 1194.31 L1668.79 1191.95 L1670.16 1189.58 L1671.51 1187.19 L1672.83 1184.78 L1674.12 1182.36 L1675.4 1179.92 L1676.64 1177.46 L1677.87 1174.99 L1679.07 1172.5 L1680.25 1170 L1681.41 1167.49 L1682.55 1164.96 L1683.67 1162.42 L1684.77 1159.87 L1685.85 1157.31 L1686.91 1154.73 L1687.96 1152.15 L1688.99 1149.55 L1690.01 1146.94 L1691.01 1144.33 L1691.99 1141.71 L1692.97 1139.08 L1693.92 1136.44 L1694.87 1133.79 L1695.81 1131.14 L1696.73 1128.48 L1697.64 1125.81 L1698.55 1123.14 L1699.44 1120.47 L1700.33 1117.79 L1701.21 1115.11 L1702.08 1112.42 L1702.94 1109.74 L1703.8 1107.05 L1704.65 1104.36 L1705.5 1101.66 L1706.35 1098.97 L1707.19 1096.28 L1708.03 1093.59 L1708.86 1090.89 L1709.7 1088.21 L1710.53 1085.52 L1711.37 1082.83 L1712.2 1080.15 L1713.04 1077.46 L1713.87 1074.78 L1714.7 1072.1 L1715.52 1069.42 L1716.35 1066.74 L1717.18 1064.07 L1718 1061.39 L1718.82 1058.71 L1719.64 1056.03 L1720.45 1053.36 L1721.27 1050.68 L1722.08 1048 L1722.88 1045.33 L1723.69 1042.65 L1724.49 1039.97 L1725.29 1037.29 L1726.08 1034.61 L1726.87 1031.93 L1727.66 1029.25 L1728.44 1026.57 L1729.22 1023.88 L1729.99 1021.19 L1730.76 1018.5 L1731.53 1015.81 L1732.29 1013.12 L1733.05 1010.42 L1733.8 1007.73 L1734.55 1005.03 L1735.29 1002.33 L1736.03 999.63 L1736.77 996.92 L1737.5 994.21 L1738.23 991.51 L1738.95 988.8 L1739.67 986.09 L1740.38 983.37 L1741.09 980.66 L1741.8 977.94 L1742.5 975.22 L1743.2 972.5 L1743.9 969.78 L1744.59 967.06 L1745.28 964.34 L1745.96 961.61 L1746.64 958.88 L1747.32 956.15 L1747.99 953.42 L1748.66 950.69 L1749.32 947.96 L1749.99 945.23 L1750.65 942.49 L1751.3 939.75 L1751.95 937.02 L1752.6 934.28 L1753.25 931.53 L1753.89 928.79 L1754.53 926.05 L1755.16 923.31 L1755.79 920.56 L1756.42 917.81 L1757.05 915.07 L1757.67 912.32 L1758.29 909.57 L1758.91 906.82 L1759.52 904.06 L1760.13 901.31 L1760.74 898.56 L1761.35 895.8 L1761.95 893.05 L1762.55 890.29 L1763.15 887.53 L1763.74 884.77 L1764.33 882.01 L1764.92 879.25 L1765.51 876.49 L1766.09 873.73 L1766.67 870.97 L1767.25 868.21 L1767.83 865.44 L1768.4 862.68 L1768.97 859.91 L1769.54 857.15 L1770.11 854.38 L1770.68 851.61 L1771.24 848.85 L1771.8 846.08 L1772.36 843.31 L1772.91 840.54 L1773.47 837.77 L1774.02 835 L1774.57 832.23 L1775.12 829.46 L1775.66 826.69 L1776.21 823.92 L1776.75 821.15 L1777.29 818.38 L1777.83 815.6 L1778.36 812.83 L1778.9 810.06 L1779.43 807.28 L1779.96 804.51 L1780.49 801.74 L1781.02 798.96 L1781.55 796.19 L1782.07 793.41 L1782.59 790.64 L1783.12 787.86 L1783.63 785.09 L1784.15 782.31 L1784.67 779.54 L1785.18 776.76 L1785.69 773.98 L1786.21 771.21 L1786.71 768.43 L1787.22 765.65 L1787.73 762.87 L1788.23 760.09 L1788.74 757.32 L1789.24 754.54 L1789.74 751.76 L1790.23 748.98 L1790.73 746.2 L1791.23 743.42 L1791.72 740.64 L1792.21 737.86 L1792.7 735.08 L1793.19 732.3 L1793.68 729.52 L1794.17 726.73 L1794.65 723.95 L1795.13 721.17 L1795.62 718.39 L1796.1 715.61 L1796.58 712.82 L1797.05 710.04 L1797.53 707.26 L1798.01 704.47 L1798.48 701.69 L1798.95 698.91 L1799.42 696.12 L1799.89 693.34 L1800.36 690.55 L1800.83 687.77 L1801.3 684.99 L1801.76 682.2 L1802.22 679.42 L1802.69 676.63 L1803.15 673.84 L1803.61 671.06 L1804.07 668.27 L1804.52 665.49 L1804.98 662.7 L1805.44 659.91 L1805.89 657.13 L1806.34 654.34 L1806.8 651.55 L1807.25 648.76 L1807.7 645.98 L1808.15 643.19 L1808.59 640.4 L1809.04 637.61 L1809.49 634.82 L1809.93 632.03 L1810.37 629.25 L1810.82 626.46 L1811.26 623.67 L1811.7 620.88 L1812.14 618.09 L1812.58 615.3 L1813.02 612.51 L1813.45 609.72 L1813.89 606.93 L1814.32 604.14 L1814.76 601.35 L1815.19 598.56 L1815.62 595.77 L1816.06 592.98 L1816.49 590.19 L1816.92 587.4 L1817.35 584.6 L1817.77 581.81 L1818.2 579.02 L1818.63 576.23 L1819.06 573.44 L1819.48 570.65 L1819.91 567.85 L1820.33 565.06 L1820.75 562.27 L1821.18 559.48 L1821.6 556.68 L1822.02 553.89 L1822.44 551.1 L1822.86 548.31 L1823.28 545.51 L1823.7 542.72 L1824.12 539.93 L1824.53 537.13 L1824.95 534.34 L1825.37 531.55 L1825.78 528.75 L1826.2 525.96 L1826.61 523.17 L1827.03 520.37 L1827.44 517.58 L1827.85 514.79 L1828.27 511.99 L1828.68 509.2 L1829.09 506.4 L1829.5 503.61 L1829.91 500.82 L1830.32 498.02 L1830.73 495.23 L1831.14 492.43 L1831.55 489.64 L1831.96 486.84 L1832.37 484.05 L1832.78 481.25 L1833.19 478.46 L1833.59 475.66 L1834 472.87 L1834.41 470.08 L1834.81 467.28 L1835.22 464.49 L1835.63 461.69 L1836.03 458.9 L1836.44 456.1 L1836.84 453.31 L1837.25 450.51 L1837.65 447.72 L1838.06 444.92 L1838.46 442.13 L1838.87 439.33 L1839.27 436.53 L1839.68 433.74 L1840.08 430.94 L1840.49 428.15 L1840.89 425.35 L1841.29 422.56 L1841.7 419.76 L1842.1 416.97 L1842.51 414.17 L1842.91 411.38 L1843.31 408.58 L1843.72 405.79 L1844.12 402.99 L1844.52 400.2 L1844.93 397.4 L1845.33 394.61 L1845.74 391.81 L1846.14 389.02 L1846.54 386.22 L1846.95 383.43 L1847.35 380.63 L1847.76 377.84 L1848.16 375.04 L1848.57 372.25 L1848.97 369.45 L1849.37 366.66 L1849.78 363.86 L1850.19 361.07 L1850.59 358.27 L1851 355.48 L1851.4 352.68 L1851.81 349.89 L1852.22 347.09 L1852.62 344.3 L1853.03 341.5 L1853.44 338.71 L1853.84 335.92 L1854.25 333.12 L1854.66 330.33 L1855.07 327.53 L1855.49 324.74 L1855.9 321.95 L1856.32 319.16 L1856.74 316.36 L1857.16 313.57 L1857.58 310.78 L1858.01 307.99 L1858.44 305.2 L1858.88 302.42 L1859.32 299.63 L1859.76 296.84 L1860.21 294.06 L1860.67 291.27 L1861.13 288.49 L1861.6 285.71 L1862.07 282.93 L1862.55 280.15 L1863.04 277.38 L1863.53 274.6 L1864.03 271.83 L1864.54 269.05 L1865.05 266.28 L1865.58 263.52 L1866.11 260.75 L1866.65 257.98 L1867.2 255.22 L1867.76 252.46 L1868.33 249.7 L1868.91 246.95 L1869.5 244.19 L1870.1 241.44 L1870.71 238.69 L1871.34 235.95 L1871.97 233.2 L1872.62 230.46 L1873.28 227.72 L1873.95 224.99 L1874.63 222.26 L1875.33 219.53 L1876.04 216.8 L1876.76 214.08 L1877.5 211.35 L1878.25 208.64 L1879.02 205.92 L1879.8 203.21 L1880.6 200.5 L1881.41 197.8 L1882.23 195.1 L1883.08 192.4 L1883.94 189.71 L1884.82 187.02 L1885.71 184.33 L1886.62 181.65 L1887.55 178.97 L1888.51 176.31 L1889.5 173.66 L1890.54 171.04 L1891.62 168.44 L1892.77 165.89 L1893.98 163.38 L1895.28 160.92 L1896.65 158.52 L1898.12 156.18 L1899.69 153.91 L1901.38 151.72 L1903.16 149.71 L1905.01 148.08 L1906.91 147 L1908.83 146.68 L1910.73 147.19 L1912.52 148.42 L1914.13 150.21 L1915.49 152.43 L1916.63 154.99 L1917.59 157.82 L1918.41 160.81 L1919.14 163.89 L1919.8 166.98 L1920.44 170 L1921.05 172.96 L1921.64 175.87 L1922.22 178.72 L1922.77 181.53 L1923.31 184.3 L1923.83 187.04 L1924.34 189.75 L1924.83 192.45 L1925.32 195.13 L1925.79 197.81 L1926.26 200.49 L1926.72 203.17 L1927.18 205.87 L1927.63 208.58 L1928.08 211.32 L1928.53 214.09 L1928.98 216.9 L1929.44 219.75 L1929.92 222.62 L1930.41 225.5 L1930.93 228.38 L1931.48 231.25 L1932.07 234.1 L1932.72 236.92 L1933.42 239.7 L1934.18 242.42 L1935.01 245.08 L1935.91 247.66 L1936.9 250.16 L1937.98 252.56 L1937.99 252.57 L1940.07 265.6 L1942.14 278.64 L1944.18 291.67 L1946.15 304.71 L1948.05 317.75 L1949.87 330.78 L1951.61 343.82 L1953.3 356.85 L1954.95 369.89 L1956.56 382.92 L1958.13 395.96 L1959.68 409 L1961.21 422.03 L1962.73 435.07 L1964.24 448.1 L1965.75 461.14 L1967.26 474.18 L1968.8 487.21 L1970.39 500.25 L1972.05 513.28 L1973.73 526.32 L1975.38 539.35 L1976.98 552.39 L1978.53 565.43 L1980.06 578.46 L1981.57 591.5 L1983.02 604.53 L1984.42 617.57 L1985.78 630.61 L1987.1 643.64 L1988.41 656.68 L1989.74 669.71 L1991.01 682.75 L1992.1 695.79 L1993.14 708.82 L1994.14 721.86 L1995.14 734.89 L1996.14 747.93 L1997.15 760.96 L1998.2 774 L1999.26 787.04 L2000.32 800.07 L2001.41 813.11 L2002.54 826.14 L2003.71 839.18 L2004.95 852.22 L2006.26 865.25 L2007.6 878.29 L2008.87 891.32 L2010.12 904.36 L2011.39 917.4 L2012.71 930.43 L2014.15 943.47 L2015.73 956.5 L2017.43 969.54 L2019.25 982.57 L2021.19 995.61 L2023.26 1008.65 L2025.46 1021.68" fill="none" stroke="#231f20" stroke-width="6" stroke-linejoin="round" stroke-linecap="butt"/>
<path d="M1248.25 1275.02 L1250.57 1275.28 L1252.9 1275.55 L1255.22 1275.8 L1257.55 1276.05 L1259.87 1276.3 L1262.19 1276.54 L1264.51 1276.77 L1266.83 1277 L1269.15 1277.22 L1271.46 1277.44 L1273.78 1277.65 L1276.09 1277.85 L1278.41 1278.05 L1280.72 1278.25 L1283.03 1278.44 L1285.35 1278.62 L1287.66 1278.8 L1289.97 1278.97 L1292.27 1279.14 L1294.58 1279.3 L1296.89 1279.45 L1299.2 1279.61 L1301.5 1279.75 L1303.81 1279.89 L1306.11 1280.03 L1308.42 1280.16 L1310.72 1280.28 L1313.02 1280.4 L1315.33 1280.52 L1317.63 1280.63 L1319.93 1280.73 L1322.23 1280.83 L1324.53 1280.92 L1326.83 1281.01 L1329.13 1281.1 L1331.43 1281.18 L1333.73 1281.25 L1336.03 1281.32 L1338.32 1281.39 L1340.62 1281.45 L1342.92 1281.5 L1345.21 1281.55 L1347.51 1281.59 L1349.81 1281.63 L1352.1 1281.67 L1354.4 1281.7 L1356.69 1281.73 L1358.99 1281.75 L1361.28 1281.76 L1363.58 1281.78 L1365.87 1281.78 L1368.17 1281.79 L1370.46 1281.78 L1372.76 1281.78 L1375.05 1281.77 L1377.35 1281.75 L1379.64 1281.73 L1381.94 1281.71 L1384.23 1281.68 L1386.52 1281.64 L1388.82 1281.61 L1391.11 1281.56 L1393.41 1281.52 L1395.7 1281.47 L1398 1281.41 L1400.3 1281.35 L1402.59 1281.29 L1404.89 1281.22 L1407.18 1281.15 L1409.48 1281.07 L1411.78 1280.99 L1414.07 1280.91 L1416.37 1280.82 L1418.67 1280.73 L1420.97 1280.63 L1423.26 1280.53 L1425.56 1280.42 L1427.86 1280.31 L1430.16 1280.2 L1432.46 1280.08 L1434.76 1279.96 L1437.07 1279.84 L1439.37 1279.71 L1441.67 1279.58 L1443.97 1279.44 L1446.28 1279.3 L1448.58 1279.16 L1450.89 1279.01 L1453.19 1278.86 L1455.5 1278.7 L1457.8 1278.54 L1460.11 1278.38 L1462.42 1278.21 L1464.73 1278.04 L1467.04 1277.87 L1469.35 1277.69 L1471.66 1277.51 L1473.97 1277.33 L1476.29 1277.14 L1478.6 1276.95 L1480.92 1276.75 L1483.23 1276.56 L1485.55 1276.35 L1487.87 1276.15 L1490.19 1275.94 L1492.51 1275.73 L1494.83 1275.51 L1497.15 1275.29 L1499.48 1275.07 L1501.8 1274.85 L1504.13 1274.62 L1506.45 1274.39 L1508.78 1274.15 L1511.11 1273.92 L1513.44 1273.67 L1515.77 1273.42 L1518.1 1273.17 L1520.42 1272.91 L1522.75 1272.64 L1525.08 1272.36 L1527.4 1272.08 L1529.72 1271.78 L1532.04 1271.47 L1534.36 1271.15 L1536.67 1270.82 L1538.98 1270.47 L1541.28 1270.11 L1543.58 1269.74 L1545.88 1269.35 L1548.17 1268.94 L1550.45 1268.51 L1552.72 1268.07 L1554.99 1267.61 L1557.26 1267.13 L1559.51 1266.62 L1561.76 1266.1 L1564 1265.56 L1566.23 1264.99 L1568.45 1264.39 L1570.66 1263.78 L1572.87 1263.13 L1575.06 1262.47 L1577.24 1261.77 L1579.41 1261.05 L1581.57 1260.29 L1583.71 1259.51 L1585.85 1258.7 L1587.97 1257.86 L1590.08 1256.98 L1592.17 1256.08 L1594.26 1255.14 L1596.32 1254.16 L1598.38 1253.16 L1600.41 1252.12 L1602.44 1251.04 L1604.44 1249.94 L1606.44 1248.8 L1608.41 1247.64 L1610.37 1246.44 L1612.31 1245.21 L1614.24 1243.96 L1616.15 1242.67 L1618.04 1241.36 L1619.91 1240.01 L1621.77 1238.65 L1623.6 1237.25 L1625.42 1235.82 L1627.22 1234.38 L1629 1232.9 L1630.76 1231.4 L1632.5 1229.87 L1634.22 1228.32 L1635.92 1226.75 L1637.6 1225.15 L1639.26 1223.53 L1640.89 1221.89 L1642.51 1220.23 L1644.1 1218.54 L1645.67 1216.84 L1647.22 1215.11 L1648.74 1213.36 L1650.24 1211.6 L1651.72 1209.81 L1653.18 1208.01 L1654.61 1206.18 L1656.01 1204.34 L1657.39 1202.49 L1658.75 1200.61 L1660.08 1198.72 L1661.39 1196.82 L1662.67 1194.9 L1663.93 1192.96 L1665.16 1191.01 L1666.37 1189.05 L1667.56 1187.07 L1668.73 1185.08 L1669.88 1183.08 L1671.01 1181.06 L1672.13 1179.04 L1673.22 1177 L1674.29 1174.96 L1675.35 1172.9 L1676.4 1170.84 L1677.42 1168.76 L1678.44 1166.68 L1679.44 1164.59 L1680.42 1162.49 L1681.4 1160.38 L1682.36 1158.27 L1683.31 1156.15 L1684.25 1154.03 L1685.18 1151.9 L1686.1 1149.77 L1687.01 1147.63 L1687.92 1145.49 L1688.82 1143.35 L1689.71 1141.21 L1690.59 1139.06 L1691.48 1136.91 L1692.35 1134.76 L1693.23 1132.61 L1694.1 1130.46 L1694.96 1128.31 L1695.83 1126.15 L1696.69 1124 L1697.54 1121.85 L1698.4 1119.69 L1699.24 1117.54 L1700.09 1115.38 L1700.93 1113.22 L1701.76 1111.07 L1702.59 1108.91 L1703.42 1106.75 L1704.24 1104.59 L1705.06 1102.43 L1705.88 1100.26 L1706.69 1098.1 L1707.49 1095.93 L1708.29 1093.77 L1709.09 1091.6 L1709.88 1089.43 L1710.66 1087.26 L1711.44 1085.09 L1712.22 1082.92 L1712.99 1080.75 L1713.76 1078.57 L1714.51 1076.4 L1715.27 1074.22 L1716.02 1072.04 L1716.76 1069.86 L1717.5 1067.68 L1718.23 1065.49 L1718.96 1063.31 L1719.68 1061.12 L1720.39 1058.93 L1721.1 1056.74 L1721.81 1054.55 L1722.5 1052.35 L1723.19 1050.16 L1723.88 1047.96 L1724.55 1045.76 L1725.23 1043.56 L1725.89 1041.35 L1726.55 1039.15 L1727.2 1036.94 L1727.85 1034.73 L1728.48 1032.52 L1729.12 1030.3 L1729.74 1028.09 L1730.36 1025.87 L1730.97 1023.65 L1731.57 1021.42 L1732.17 1019.2 L1732.76 1016.97 L1733.34 1014.74 L1733.91 1012.5 L1734.48 1010.27 L1735.04 1008.03 L1735.59 1005.79 L1736.13 1003.55 L1736.67 1001.3 L1737.2 999.05 L1737.72 996.8 L1738.23 994.55 L1738.73 992.29 L1739.23 990.03 L1739.72 987.77 L1740.2 985.5 L1740.67 983.24 L1741.14 980.97 L1741.6 978.7 L1742.06 976.42 L1742.51 974.15 L1742.96 971.88 L1743.41 969.6 L1743.86 967.32 L1744.31 965.05 L1744.76 962.77 L1745.21 960.5 L1745.66 958.22 L1746.12 955.95 L1746.57 953.68 L1747.04 951.4 L1747.51 949.14 L1747.99 946.87 L1748.47 944.6 L1748.96 942.34 L1749.46 940.09 L1749.97 937.83 L1750.49 935.58 L1751.01 933.33 L1751.54 931.08 L1752.08 928.83 L1752.62 926.59 L1753.17 924.35 L1753.72 922.11 L1754.28 919.87 L1754.84 917.63 L1755.4 915.39 L1755.96 913.15 L1756.52 910.92 L1757.08 908.68 L1757.64 906.44 L1758.2 904.21 L1758.76 901.97 L1759.32 899.73 L1759.87 897.49 L1760.42 895.25 L1760.97 893.01 L1761.51 890.77 L1762.05 888.53 L1762.59 886.29 L1763.12 884.05 L1763.66 881.8 L1764.19 879.56 L1764.71 877.31 L1765.24 875.07 L1765.76 872.82 L1766.27 870.57 L1766.79 868.32 L1767.3 866.07 L1767.81 863.83 L1768.32 861.58 L1768.82 859.32 L1769.33 857.07 L1769.83 854.82 L1770.32 852.57 L1770.82 850.31 L1771.31 848.06 L1771.8 845.8 L1772.28 843.55 L1772.77 841.29 L1773.25 839.04 L1773.73 836.78 L1774.21 834.52 L1774.68 832.26 L1775.15 830 L1775.62 827.74 L1776.09 825.48 L1776.55 823.22 L1777.02 820.96 L1777.48 818.7 L1777.93 816.44 L1778.39 814.17 L1778.84 811.91 L1779.3 809.65 L1779.74 807.38 L1780.19 805.12 L1780.64 802.85 L1781.08 800.58 L1781.52 798.32 L1781.96 796.05 L1782.4 793.78 L1782.83 791.51 L1783.26 789.25 L1783.69 786.98 L1784.12 784.71 L1784.55 782.44 L1784.97 780.17 L1785.4 777.9 L1785.82 775.62 L1786.24 773.35 L1786.66 771.08 L1787.07 768.81 L1787.49 766.53 L1787.9 764.26 L1788.31 761.99 L1788.72 759.71 L1789.12 757.44 L1789.53 755.16 L1789.93 752.89 L1790.34 750.61 L1790.74 748.34 L1791.14 746.06 L1791.53 743.78 L1791.93 741.51 L1792.32 739.23 L1792.72 736.95 L1793.11 734.67 L1793.5 732.39 L1793.89 730.11 L1794.27 727.84 L1794.66 725.56 L1795.04 723.28 L1795.43 721 L1795.81 718.72 L1796.19 716.44 L1796.57 714.16 L1796.95 711.88 L1797.32 709.59 L1797.7 707.31 L1798.07 705.03 L1798.45 702.75 L1798.82 700.47 L1799.19 698.19 L1799.56 695.9 L1799.93 693.62 L1800.29 691.34 L1800.66 689.05 L1801.03 686.77 L1801.39 684.49 L1801.75 682.2 L1802.12 679.92 L1802.48 677.64 L1802.84 675.35 L1803.2 673.07 L1803.56 670.78 L1803.92 668.5 L1804.27 666.22 L1804.63 663.93 L1804.99 661.65 L1805.34 659.36 L1805.7 657.08 L1806.05 654.79 L1806.4 652.51 L1806.76 650.22 L1807.11 647.94 L1807.46 645.65 L1807.81 643.37 L1808.16 641.08 L1808.51 638.8 L1808.86 636.51 L1809.21 634.23 L1809.55 631.94 L1809.9 629.65 L1810.25 627.37 L1810.59 625.08 L1810.94 622.8 L1811.29 620.51 L1811.63 618.23 L1811.98 615.94 L1812.32 613.66 L1812.67 611.37 L1813.01 609.09 L1813.35 606.8 L1813.7 604.52 L1814.04 602.23 L1814.38 599.95 L1814.73 597.66 L1815.07 595.38 L1815.41 593.09 L1815.75 590.81 L1816.1 588.52 L1816.44 586.24 L1816.78 583.95 L1817.12 581.67 L1817.47 579.39 L1817.81 577.1 L1818.15 574.82 L1818.5 572.53 L1818.84 570.25 L1819.18 567.97 L1819.52 565.68 L1819.87 563.4 L1820.21 561.12 L1820.56 558.83 L1820.9 556.55 L1821.24 554.27 L1821.59 551.98 L1821.93 549.7 L1822.28 547.42 L1822.63 545.14 L1822.97 542.85 L1823.32 540.57 L1823.66 538.29 L1824.01 536.01 L1824.36 533.72 L1824.71 531.44 L1825.06 529.16 L1825.41 526.88 L1825.76 524.6 L1826.11 522.31 L1826.46 520.03 L1826.81 517.75 L1827.17 515.47 L1827.52 513.19 L1827.87 510.91 L1828.23 508.63 L1828.58 506.35 L1828.94 504.07 L1829.3 501.78 L1829.66 499.5 L1830.02 497.22 L1830.38 494.94 L1830.74 492.66 L1831.1 490.38 L1831.46 488.1 L1831.83 485.82 L1832.19 483.54 L1832.56 481.26 L1832.92 478.98 L1833.29 476.71 L1833.66 474.43 L1834.03 472.15 L1834.4 469.87 L1834.78 467.59 L1835.15 465.31 L1835.52 463.03 L1835.9 460.75 L1836.28 458.48 L1836.66 456.2 L1837.04 453.92 L1837.42 451.64 L1837.8 449.36 L1838.19 447.09 L1838.57 444.81 L1838.96 442.53 L1839.35 440.25 L1839.74 437.98 L1840.13 435.7 L1840.52 433.42 L1840.92 431.15 L1841.31 428.87 L1841.71 426.59 L1842.11 424.32 L1842.51 422.04 L1842.92 419.77 L1843.32 417.49 L1843.73 415.21 L1844.14 412.94 L1844.55 410.66 L1844.96 408.39 L1845.37 406.11 L1845.79 403.84 L1846.2 401.56 L1846.62 399.29 L1847.04 397.01 L1847.46 394.74 L1847.89 392.47 L1848.31 390.19 L1848.74 387.92 L1849.17 385.64 L1849.59 383.37 L1850.02 381.1 L1850.45 378.82 L1850.88 376.55 L1851.31 374.28 L1851.75 372 L1852.18 369.73 L1852.61 367.46 L1853.04 365.18 L1853.48 362.91 L1853.91 360.64 L1854.35 358.37 L1854.78 356.09 L1855.21 353.82 L1855.65 351.55 L1856.08 349.28 L1856.51 347.01 L1856.94 344.73 L1857.37 342.46 L1857.8 340.19 L1858.23 337.92 L1858.66 335.65 L1859.09 333.37 L1859.52 331.1 L1859.95 328.83 L1860.37 326.56 L1860.79 324.29 L1861.22 322.02 L1861.64 319.75 L1862.05 317.47 L1862.47 315.2 L1862.89 312.93 L1863.3 310.66 L1863.71 308.39 L1864.12 306.12 L1864.53 303.85 L1864.94 301.58 L1865.34 299.3 L1865.74 297.03 L1866.14 294.76 L1866.53 292.49 L1866.93 290.22 L1867.32 287.95 L1867.7 285.68 L1868.09 283.41 L1868.47 281.14 L1868.85 278.87 L1869.24 276.59 L1869.62 274.32 L1870 272.05 L1870.38 269.78 L1870.76 267.51 L1871.14 265.25 L1871.52 262.98 L1871.91 260.71 L1872.3 258.44 L1872.69 256.17 L1873.08 253.91 L1873.48 251.64 L1873.88 249.37 L1874.28 247.11 L1874.69 244.84 L1875.11 242.58 L1875.53 240.32 L1875.96 238.05 L1876.39 235.79 L1876.83 233.53 L1877.28 231.27 L1877.73 229.01 L1878.19 226.75 L1878.66 224.49 L1879.14 222.24 L1879.63 219.98 L1880.13 217.73 L1880.64 215.47 L1881.15 213.22 L1881.68 210.97 L1882.22 208.72 L1882.77 206.47 L1883.34 204.23 L1883.91 201.98 L1884.5 199.74 L1885.11 197.49 L1885.72 195.25 L1886.35 193.01 L1887 190.77 L1887.66 188.53 L1888.33 186.3 L1889.02 184.06 L1889.73 181.83 L1890.45 179.6 L1891.2 177.37 L1891.97 175.16 L1892.79 172.96 L1893.65 170.78 L1894.57 168.64 L1895.56 166.52 L1896.62 164.44 L1897.77 162.41 L1899 160.43 L1900.34 158.51 L1901.78 156.64 L1903.35 154.84 L1905.02 153.14 L1906.79 151.56 L1908.62 150.15 L1910.5 148.94 L1912.41 147.98 L1914.33 147.3 L1916.23 146.94 L1918.1 146.95 L1919.91 147.35 L1921.64 148.19 L1923.27 149.45 L1924.77 151.07 L1926.12 152.96 L1927.34 155.07 L1928.44 157.33 L1929.44 159.69 L1930.38 162.1 L1931.26 164.48 L1932.11 166.84 L1932.92 169.15 L1933.7 171.44 L1934.44 173.7 L1935.15 175.94 L1935.84 178.16 L1936.49 180.35 L1937.13 182.54 L1937.74 184.7 L1938.32 186.87 L1938.89 189.02 L1939.44 191.17 L1939.98 193.32 L1940.51 195.48 L1941.02 197.64 L1941.52 199.81 L1942.02 201.99 L1942.51 204.19 L1942.99 206.4 L1943.48 208.64 L1943.97 210.9 L1944.46 213.18 L1944.95 215.5 L1945.45 217.85 L1945.96 220.24 L1946.47 222.66 L1946.46 222.6 L1948.88 234.38 L1950.74 246.15 L1952.41 257.93 L1953.95 269.7 L1955.45 281.48 L1956.93 293.25 L1958.34 305.03 L1959.73 316.8 L1961.14 328.58 L1962.54 340.35 L1963.91 352.13 L1965.25 363.9 L1966.55 375.68 L1967.83 387.46 L1969.08 399.23 L1970.31 411.01 L1971.52 422.78 L1972.71 434.56 L1973.89 446.33 L1975.04 458.11 L1976.18 469.88 L1977.29 481.66 L1978.31 493.43 L1979.27 505.21 L1980.22 516.98 L1981.18 528.76 L1982.19 540.53 L1983.28 552.31 L1984.45 564.09 L1985.65 575.86 L1986.86 587.64 L1988.06 599.41 L1989.2 611.19 L1990.28 622.96 L1991.27 634.74 L1992.19 646.51 L1993.08 658.29 L1993.93 670.06 L1994.79 681.84 L1995.63 693.61 L1996.42 705.39 L1997.15 717.17 L1997.87 728.94 L1998.6 740.72 L1999.37 752.49 L2000.19 764.27 L2001.02 776.04 L2001.88 787.82 L2002.74 799.59 L2003.59 811.37 L2004.43 823.14 L2005.26 834.92 L2006.08 846.69 L2006.9 858.47 L2007.71 870.24 L2008.52 882.02 L2009.33 893.8 L2010.13 905.57 L2010.94 917.35 L2011.74 929.12 L2012.56 940.9 L2013.39 952.67 L2014.26 964.45 L2015.1 976.22 L2016 988 L2017.24 999.77 L2018.59 1011.55 L2019.84 1023.32 L2020.96 1035.1 L2021.3 1050 L2022.6 1070 L2024.2 1085 L2025.27 1098" fill="none" stroke="#2e3192" stroke-width="5.5" stroke-linejoin="round" stroke-linecap="butt"/>
<path d="M1248.24 1275 L1250.57 1275.29 L1252.9 1275.57 L1255.23 1275.85 L1257.56 1276.12 L1259.88 1276.38 L1262.2 1276.63 L1264.53 1276.88 L1266.85 1277.12 L1269.17 1277.35 L1271.49 1277.58 L1273.81 1277.8 L1276.12 1278.02 L1278.44 1278.22 L1280.75 1278.42 L1283.07 1278.62 L1285.38 1278.81 L1287.69 1278.99 L1290 1279.16 L1292.31 1279.33 L1294.62 1279.49 L1296.93 1279.65 L1299.24 1279.8 L1301.54 1279.94 L1303.85 1280.08 L1306.16 1280.21 L1308.46 1280.34 L1310.76 1280.46 L1313.07 1280.57 L1315.37 1280.68 L1317.67 1280.78 L1319.97 1280.88 L1322.27 1280.97 L1324.57 1281.06 L1326.87 1281.14 L1329.17 1281.21 L1331.47 1281.28 L1333.76 1281.35 L1336.06 1281.41 L1338.36 1281.46 L1340.66 1281.51 L1342.95 1281.55 L1345.25 1281.59 L1347.54 1281.63 L1349.84 1281.66 L1352.13 1281.68 L1354.43 1281.7 L1356.72 1281.72 L1359.02 1281.73 L1361.31 1281.73 L1363.6 1281.73 L1365.9 1281.73 L1368.19 1281.72 L1370.49 1281.71 L1372.78 1281.69 L1375.07 1281.67 L1377.37 1281.65 L1379.66 1281.62 L1381.95 1281.58 L1384.25 1281.55 L1386.54 1281.5 L1388.84 1281.46 L1391.13 1281.41 L1393.42 1281.36 L1395.72 1281.3 L1398.01 1281.24 L1400.31 1281.18 L1402.6 1281.11 L1404.9 1281.04 L1407.2 1280.96 L1409.49 1280.88 L1411.79 1280.8 L1414.09 1280.72 L1416.38 1280.63 L1418.68 1280.54 L1420.98 1280.44 L1423.28 1280.34 L1425.58 1280.24 L1427.88 1280.14 L1430.18 1280.03 L1432.48 1279.92 L1434.78 1279.81 L1437.09 1279.7 L1439.39 1279.58 L1441.69 1279.46 L1444 1279.34 L1446.3 1279.21 L1448.61 1279.08 L1450.92 1278.95 L1453.22 1278.82 L1455.53 1278.68 L1457.84 1278.55 L1460.15 1278.41 L1462.46 1278.27 L1464.78 1278.12 L1467.09 1277.98 L1469.4 1277.83 L1471.72 1277.68 L1474.04 1277.53 L1476.35 1277.37 L1478.67 1277.22 L1480.99 1277.06 L1483.31 1276.91 L1485.63 1276.75 L1487.96 1276.58 L1490.28 1276.42 L1492.61 1276.26 L1494.94 1276.09 L1497.26 1275.92 L1499.59 1275.76 L1501.92 1275.59 L1504.26 1275.42 L1506.59 1275.25 L1508.93 1275.07 L1511.26 1274.9 L1513.6 1274.72 L1515.94 1274.54 L1518.27 1274.36 L1520.61 1274.17 L1522.95 1273.97 L1525.28 1273.77 L1527.62 1273.56 L1529.95 1273.34 L1532.28 1273.12 L1534.61 1272.88 L1536.94 1272.63 L1539.26 1272.37 L1541.58 1272.09 L1543.89 1271.8 L1546.2 1271.5 L1548.51 1271.18 L1550.81 1270.85 L1553.11 1270.5 L1555.4 1270.13 L1557.68 1269.74 L1559.96 1269.33 L1562.23 1268.9 L1564.49 1268.45 L1566.75 1267.97 L1569 1267.48 L1571.24 1266.96 L1573.47 1266.41 L1575.69 1265.84 L1577.9 1265.24 L1580.11 1264.61 L1582.3 1263.96 L1584.49 1263.27 L1586.66 1262.56 L1588.82 1261.81 L1590.97 1261.03 L1593.11 1260.22 L1595.23 1259.38 L1597.35 1258.5 L1599.45 1257.59 L1601.54 1256.65 L1603.61 1255.67 L1605.67 1254.66 L1607.71 1253.62 L1609.74 1252.54 L1611.75 1251.44 L1613.75 1250.3 L1615.73 1249.14 L1617.7 1247.94 L1619.64 1246.72 L1621.57 1245.46 L1623.48 1244.18 L1625.37 1242.86 L1627.25 1241.52 L1629.1 1240.15 L1630.93 1238.76 L1632.74 1237.33 L1634.54 1235.88 L1636.31 1234.4 L1638.05 1232.9 L1639.78 1231.37 L1641.48 1229.82 L1643.16 1228.24 L1644.82 1226.63 L1646.45 1225 L1648.06 1223.35 L1649.65 1221.68 L1651.2 1219.98 L1652.74 1218.25 L1654.24 1216.51 L1655.72 1214.74 L1657.17 1212.95 L1658.6 1211.14 L1660 1209.31 L1661.37 1207.46 L1662.71 1205.59 L1664.02 1203.7 L1665.31 1201.79 L1666.58 1199.86 L1667.82 1197.92 L1669.04 1195.96 L1670.23 1193.98 L1671.4 1191.98 L1672.55 1189.98 L1673.67 1187.95 L1674.78 1185.92 L1675.86 1183.87 L1676.93 1181.8 L1677.98 1179.73 L1679.01 1177.64 L1680.02 1175.55 L1681.01 1173.44 L1681.99 1171.33 L1682.95 1169.2 L1683.9 1167.07 L1684.83 1164.93 L1685.75 1162.78 L1686.66 1160.63 L1687.56 1158.47 L1688.44 1156.31 L1689.31 1154.14 L1690.17 1151.97 L1691.02 1149.79 L1691.86 1147.61 L1692.7 1145.43 L1693.52 1143.25 L1694.34 1141.07 L1695.15 1138.88 L1695.96 1136.7 L1696.75 1134.51 L1697.54 1132.32 L1698.32 1130.14 L1699.1 1127.95 L1699.87 1125.76 L1700.63 1123.56 L1701.38 1121.37 L1702.13 1119.18 L1702.87 1116.98 L1703.61 1114.79 L1704.33 1112.59 L1705.06 1110.39 L1705.77 1108.19 L1706.48 1105.99 L1707.19 1103.79 L1707.88 1101.58 L1708.58 1099.38 L1709.26 1097.18 L1709.94 1094.97 L1710.62 1092.76 L1711.29 1090.56 L1711.96 1088.35 L1712.62 1086.14 L1713.27 1083.93 L1713.92 1081.72 L1714.56 1079.5 L1715.2 1077.29 L1715.84 1075.08 L1716.47 1072.86 L1717.1 1070.64 L1717.72 1068.43 L1718.34 1066.21 L1718.95 1063.99 L1719.56 1061.77 L1720.16 1059.55 L1720.77 1057.33 L1721.36 1055.1 L1721.96 1052.88 L1722.55 1050.66 L1723.13 1048.43 L1723.72 1046.21 L1724.3 1043.98 L1724.87 1041.75 L1725.44 1039.52 L1726.01 1037.29 L1726.58 1035.06 L1727.15 1032.83 L1727.71 1030.6 L1728.27 1028.37 L1728.82 1026.14 L1729.38 1023.9 L1729.93 1021.67 L1730.48 1019.43 L1731.02 1017.2 L1731.57 1014.96 L1732.11 1012.72 L1732.65 1010.48 L1733.19 1008.25 L1733.73 1006.01 L1734.26 1003.77 L1734.8 1001.53 L1735.33 999.28 L1735.86 997.04 L1736.39 994.8 L1736.92 992.55 L1737.45 990.31 L1737.97 988.07 L1738.5 985.82 L1739.03 983.57 L1739.55 981.33 L1740.07 979.08 L1740.6 976.83 L1741.12 974.59 L1741.64 972.34 L1742.16 970.09 L1742.68 967.84 L1743.2 965.59 L1743.72 963.34 L1744.24 961.08 L1744.75 958.83 L1745.27 956.58 L1745.78 954.33 L1746.3 952.07 L1746.81 949.82 L1747.32 947.56 L1747.83 945.31 L1748.34 943.05 L1748.85 940.8 L1749.36 938.54 L1749.87 936.29 L1750.37 934.03 L1750.88 931.77 L1751.38 929.51 L1751.88 927.26 L1752.38 925 L1752.88 922.74 L1753.38 920.48 L1753.88 918.22 L1754.37 915.96 L1754.87 913.7 L1755.36 911.44 L1755.85 909.18 L1756.34 906.92 L1756.83 904.66 L1757.32 902.4 L1757.81 900.13 L1758.29 897.87 L1758.77 895.61 L1759.26 893.35 L1759.74 891.08 L1760.22 888.82 L1760.69 886.56 L1761.17 884.29 L1761.64 882.03 L1762.12 879.77 L1762.59 877.5 L1763.06 875.24 L1763.53 872.97 L1763.99 870.71 L1764.46 868.45 L1764.92 866.18 L1765.39 863.92 L1765.85 861.65 L1766.31 859.38 L1766.76 857.12 L1767.22 854.85 L1767.68 852.59 L1768.13 850.32 L1768.58 848.05 L1769.03 845.79 L1769.48 843.52 L1769.93 841.25 L1770.38 838.99 L1770.82 836.72 L1771.26 834.45 L1771.71 832.18 L1772.15 829.91 L1772.59 827.64 L1773.02 825.38 L1773.46 823.11 L1773.9 820.84 L1774.33 818.57 L1774.76 816.3 L1775.19 814.03 L1775.62 811.76 L1776.05 809.49 L1776.48 807.22 L1776.9 804.95 L1777.32 802.68 L1777.75 800.41 L1778.17 798.14 L1778.59 795.86 L1779 793.59 L1779.42 791.32 L1779.84 789.05 L1780.25 786.78 L1780.66 784.5 L1781.07 782.23 L1781.48 779.96 L1781.89 777.69 L1782.3 775.41 L1782.71 773.14 L1783.11 770.86 L1783.51 768.59 L1783.91 766.32 L1784.32 764.04 L1784.71 761.77 L1785.11 759.49 L1785.51 757.22 L1785.9 754.94 L1786.3 752.67 L1786.69 750.39 L1787.08 748.12 L1787.47 745.84 L1787.86 743.56 L1788.25 741.29 L1788.63 739.01 L1789.02 736.73 L1789.4 734.46 L1789.78 732.18 L1790.16 729.9 L1790.54 727.62 L1790.92 725.35 L1791.3 723.07 L1791.67 720.79 L1792.05 718.51 L1792.42 716.23 L1792.79 713.95 L1793.16 711.67 L1793.53 709.39 L1793.9 707.11 L1794.27 704.83 L1794.63 702.55 L1795 700.27 L1795.36 697.99 L1795.72 695.71 L1796.08 693.43 L1796.44 691.15 L1796.8 688.87 L1797.16 686.58 L1797.51 684.3 L1797.87 682.02 L1798.22 679.74 L1798.57 677.46 L1798.92 675.17 L1799.27 672.89 L1799.62 670.61 L1799.97 668.32 L1800.31 666.04 L1800.66 663.76 L1801 661.47 L1801.34 659.19 L1801.69 656.9 L1802.03 654.62 L1802.36 652.33 L1802.7 650.05 L1803.04 647.76 L1803.37 645.48 L1803.71 643.19 L1804.04 640.9 L1804.37 638.62 L1804.7 636.33 L1805.03 634.04 L1805.36 631.76 L1805.69 629.47 L1806.02 627.18 L1806.34 624.89 L1806.66 622.6 L1806.99 620.32 L1807.31 618.03 L1807.63 615.74 L1807.95 613.45 L1808.27 611.16 L1808.58 608.87 L1808.9 606.58 L1809.22 604.29 L1809.53 602 L1809.84 599.71 L1810.15 597.42 L1810.47 595.13 L1810.77 592.84 L1811.08 590.55 L1811.39 588.26 L1811.7 585.97 L1812 583.67 L1812.31 581.38 L1812.61 579.09 L1812.92 576.8 L1813.22 574.51 L1813.52 572.21 L1813.83 569.92 L1814.13 567.63 L1814.43 565.34 L1814.73 563.04 L1815.03 560.75 L1815.33 558.46 L1815.64 556.16 L1815.94 553.87 L1816.24 551.58 L1816.54 549.28 L1816.84 546.99 L1817.14 544.7 L1817.44 542.41 L1817.74 540.11 L1818.04 537.82 L1818.34 535.53 L1818.65 533.23 L1818.95 530.94 L1819.25 528.65 L1819.55 526.36 L1819.86 524.06 L1820.16 521.77 L1820.47 519.48 L1820.78 517.19 L1821.08 514.89 L1821.39 512.6 L1821.7 510.31 L1822.01 508.02 L1822.32 505.73 L1822.63 503.44 L1822.94 501.15 L1823.26 498.85 L1823.57 496.56 L1823.89 494.27 L1824.21 491.98 L1824.53 489.69 L1824.85 487.4 L1825.17 485.12 L1825.49 482.83 L1825.82 480.54 L1826.14 478.25 L1826.47 475.96 L1826.8 473.67 L1827.13 471.39 L1827.47 469.1 L1827.8 466.81 L1828.14 464.53 L1828.48 462.24 L1828.82 459.96 L1829.17 457.67 L1829.51 455.39 L1829.86 453.1 L1830.21 450.82 L1830.57 448.53 L1830.92 446.25 L1831.28 443.97 L1831.64 441.69 L1832 439.4 L1832.37 437.12 L1832.74 434.84 L1833.11 432.56 L1833.48 430.28 L1833.86 428 L1834.23 425.73 L1834.62 423.45 L1835 421.17 L1835.39 418.89 L1835.78 416.62 L1836.17 414.34 L1836.57 412.07 L1836.97 409.79 L1837.38 407.52 L1837.78 405.25 L1838.19 402.97 L1838.61 400.7 L1839.02 398.43 L1839.44 396.16 L1839.87 393.89 L1840.29 391.62 L1840.72 389.35 L1841.14 387.08 L1841.57 384.81 L1842.01 382.54 L1842.44 380.28 L1842.87 378.01 L1843.31 375.74 L1843.74 373.47 L1844.18 371.21 L1844.62 368.94 L1845.06 366.67 L1845.49 364.4 L1845.93 362.14 L1846.37 359.87 L1846.8 357.6 L1847.24 355.33 L1847.67 353.06 L1848.1 350.79 L1848.54 348.53 L1848.97 346.26 L1849.39 343.99 L1849.82 341.72 L1850.24 339.45 L1850.67 337.17 L1851.09 334.9 L1851.5 332.63 L1851.92 330.36 L1852.33 328.08 L1852.73 325.81 L1853.14 323.54 L1853.54 321.26 L1853.93 318.98 L1854.32 316.71 L1854.71 314.43 L1855.09 312.15 L1855.47 309.87 L1855.84 307.59 L1856.21 305.3 L1856.57 303.02 L1856.93 300.74 L1857.28 298.45 L1857.63 296.16 L1857.97 293.88 L1858.3 291.59 L1858.63 289.29 L1858.95 287 L1859.26 284.71 L1859.57 282.41 L1859.87 280.12 L1860.18 277.82 L1860.48 275.53 L1860.77 273.23 L1861.07 270.93 L1861.37 268.64 L1861.67 266.34 L1861.97 264.05 L1862.28 261.75 L1862.59 259.46 L1862.9 257.17 L1863.22 254.88 L1863.55 252.59 L1863.88 250.3 L1864.23 248.01 L1864.58 245.73 L1864.94 243.45 L1865.32 241.17 L1865.7 238.89 L1866.1 236.62 L1866.52 234.35 L1866.94 232.08 L1867.39 229.82 L1867.85 227.56 L1868.33 225.31 L1868.83 223.05 L1869.34 220.81 L1869.88 218.56 L1870.44 216.33 L1871.02 214.09 L1871.62 211.87 L1872.25 209.64 L1872.9 207.43 L1873.58 205.22 L1874.29 203.01 L1875.02 200.81 L1875.78 198.62 L1876.57 196.43 L1877.39 194.25 L1878.24 192.08 L1879.13 189.91 L1880.04 187.75 L1880.99 185.6 L1881.98 183.46 L1883 181.33 L1884.08 179.23 L1885.22 177.2 L1886.46 175.27 L1887.8 173.48 L1889.27 171.84 L1890.89 170.4 L1892.66 169.18 L1894.62 168.22 L1896.77 167.54 L1899.09 167.17 L1901.49 167.1 L1903.9 167.33 L1906.26 167.87 L1908.48 168.73 L1910.49 169.89 L1912.23 171.36 L1913.7 173.1 L1914.96 175.03 L1916.07 177.08 L1917.1 179.18 L1918.05 181.31 L1918.95 183.46 L1919.79 185.63 L1920.59 187.81 L1921.35 190.01 L1922.08 192.22 L1922.79 194.43 L1923.49 196.65 L1924.18 198.87 L1924.87 201.08 L1925.56 203.29 L1926.24 205.5 L1926.93 207.71 L1927.61 209.92 L1928.29 212.12 L1928.96 214.33 L1929.63 216.54 L1930.28 218.74 L1930.93 220.95 L1931.56 223.17 L1932.18 225.38 L1932.79 227.6 L1933.38 229.82 L1933.96 232.05 L1934.52 234.28 L1935.06 236.52 L1935.58 238.77 L1936.08 241.02 L1936.55 243.28 L1937.01 245.55 L1937.43 247.83 L1937.83 250.11 L1938.2 252.41 L1938.55 254.72 L1938.86 257.04 L1940.88 270.19 L1942.6 283.38 L1944.51 296.56 L1946.47 309.75 L1948.39 322.94 L1950.22 336.13 L1952.02 349.32 L1953.78 362.51 L1955.49 375.69 L1957.12 388.88 L1958.68 402.07 L1960.19 415.26 L1961.65 428.45 L1963.09 441.63 L1964.52 454.82 L1965.94 468.01 L1967.37 481.2 L1968.82 494.39 L1970.27 507.57 L1971.72 520.76 L1973.16 533.95 L1974.57 547.14 L1975.96 560.33 L1977.34 573.52 L1978.71 586.7 L1980.06 599.89 L1981.38 613.08 L1982.68 626.27 L1983.97 639.46 L1985.25 652.64 L1986.52 665.83 L1987.79 679.02 L1989.04 692.21 L1990.28 705.4 L1991.52 718.58 L1992.76 731.77 L1994 744.96 L1995.23 758.15 L1996.47 771.34 L1997.71 784.53 L1998.95 797.71 L2000.19 810.9 L2001.43 824.09 L2002.68 837.28 L2003.94 850.47 L2005.19 863.65 L2006.45 876.84 L2007.72 890.03 L2008.99 903.22 L2010.28 916.41 L2011.58 929.59 L2012.91 942.78 L2014.27 955.97 L2015.64 969.16 L2017.01 982.35 L2018.44 995.54 L2019.97 1008.72 L2021.57 1021.91 L2023.26 1035.1 L2025.37 1045.4" fill="none" stroke="#231f20" stroke-width="6" stroke-linejoin="round" stroke-linecap="butt"/>
<path d="M1248.24 1274.99 L1250.57 1275.28 L1252.91 1275.57 L1255.24 1275.85 L1257.57 1276.12 L1259.9 1276.39 L1262.23 1276.65 L1264.56 1276.9 L1266.89 1277.14 L1269.21 1277.38 L1271.53 1277.61 L1273.86 1277.84 L1276.18 1278.05 L1278.5 1278.26 L1280.82 1278.46 L1283.13 1278.66 L1285.45 1278.85 L1287.77 1279.03 L1290.08 1279.21 L1292.39 1279.38 L1294.71 1279.54 L1297.02 1279.7 L1299.33 1279.85 L1301.64 1279.99 L1303.94 1280.13 L1306.25 1280.26 L1308.56 1280.39 L1310.86 1280.51 L1313.17 1280.62 L1315.47 1280.73 L1317.78 1280.83 L1320.08 1280.93 L1322.38 1281.02 L1324.68 1281.11 L1326.98 1281.19 L1329.28 1281.26 L1331.58 1281.33 L1333.88 1281.39 L1336.18 1281.45 L1338.48 1281.5 L1340.78 1281.55 L1343.07 1281.59 L1345.37 1281.63 L1347.67 1281.66 L1349.96 1281.69 L1352.26 1281.71 L1354.55 1281.73 L1356.85 1281.74 L1359.14 1281.75 L1361.44 1281.75 L1363.73 1281.75 L1366.03 1281.75 L1368.32 1281.73 L1370.62 1281.72 L1372.91 1281.7 L1375.21 1281.68 L1377.5 1281.65 L1379.79 1281.62 L1382.09 1281.58 L1384.38 1281.54 L1386.68 1281.49 L1388.97 1281.45 L1391.27 1281.39 L1393.56 1281.34 L1395.86 1281.28 L1398.15 1281.21 L1400.45 1281.15 L1402.74 1281.08 L1405.04 1281 L1407.34 1280.92 L1409.63 1280.84 L1411.93 1280.76 L1414.23 1280.67 L1416.53 1280.58 L1418.83 1280.48 L1421.13 1280.38 L1423.43 1280.28 L1425.73 1280.18 L1428.03 1280.07 L1430.33 1279.96 L1432.64 1279.85 L1434.94 1279.74 L1437.24 1279.62 L1439.55 1279.5 L1441.85 1279.37 L1444.16 1279.25 L1446.47 1279.12 L1448.78 1278.99 L1451.09 1278.86 L1453.4 1278.72 L1455.71 1278.58 L1458.02 1278.44 L1460.33 1278.3 L1462.65 1278.16 L1464.96 1278.01 L1467.28 1277.86 L1469.6 1277.72 L1471.92 1277.56 L1474.24 1277.41 L1476.56 1277.26 L1478.88 1277.1 L1481.2 1276.94 L1483.53 1276.78 L1485.85 1276.62 L1488.18 1276.46 L1490.51 1276.29 L1492.84 1276.13 L1495.17 1275.96 L1497.51 1275.8 L1499.84 1275.63 L1502.18 1275.46 L1504.52 1275.29 L1506.86 1275.12 L1509.2 1274.94 L1511.54 1274.77 L1513.88 1274.59 L1516.23 1274.41 L1518.57 1274.23 L1520.92 1274.04 L1523.26 1273.84 L1525.6 1273.64 L1527.94 1273.43 L1530.28 1273.21 L1532.62 1272.98 L1534.95 1272.74 L1537.28 1272.49 L1539.61 1272.22 L1541.93 1271.94 L1544.25 1271.65 L1546.56 1271.34 L1548.87 1271.02 L1551.17 1270.68 L1553.47 1270.32 L1555.76 1269.94 L1558.05 1269.54 L1560.32 1269.12 L1562.59 1268.68 L1564.86 1268.21 L1567.11 1267.73 L1569.35 1267.21 L1571.59 1266.68 L1573.82 1266.11 L1576.03 1265.52 L1578.24 1264.9 L1580.43 1264.25 L1582.62 1263.58 L1584.79 1262.87 L1586.95 1262.13 L1589.1 1261.35 L1591.23 1260.54 L1593.36 1259.7 L1595.47 1258.83 L1597.56 1257.91 L1599.64 1256.97 L1601.71 1255.99 L1603.76 1254.97 L1605.8 1253.92 L1607.82 1252.84 L1609.82 1251.73 L1611.81 1250.58 L1613.78 1249.4 L1615.74 1248.2 L1617.67 1246.96 L1619.59 1245.69 L1621.5 1244.39 L1623.38 1243.06 L1625.24 1241.71 L1627.09 1240.32 L1628.92 1238.91 L1630.72 1237.47 L1632.51 1236.01 L1634.28 1234.52 L1636.02 1233 L1637.75 1231.46 L1639.45 1229.89 L1641.13 1228.3 L1642.79 1226.68 L1644.43 1225.04 L1646.04 1223.38 L1647.63 1221.69 L1649.2 1219.99 L1650.74 1218.26 L1652.26 1216.51 L1653.75 1214.74 L1655.22 1212.95 L1656.67 1211.14 L1658.09 1209.31 L1659.48 1207.46 L1660.85 1205.59 L1662.19 1203.71 L1663.51 1201.81 L1664.8 1199.89 L1666.07 1197.96 L1667.31 1196.01 L1668.53 1194.05 L1669.73 1192.07 L1670.91 1190.08 L1672.07 1188.07 L1673.21 1186.05 L1674.33 1184.02 L1675.43 1181.98 L1676.51 1179.92 L1677.58 1177.86 L1678.63 1175.78 L1679.66 1173.7 L1680.67 1171.6 L1681.67 1169.5 L1682.66 1167.39 L1683.63 1165.27 L1684.59 1163.15 L1685.53 1161.01 L1686.46 1158.88 L1687.38 1156.73 L1688.29 1154.59 L1689.19 1152.43 L1690.08 1150.28 L1690.96 1148.12 L1691.83 1145.96 L1692.7 1143.79 L1693.55 1141.63 L1694.4 1139.46 L1695.24 1137.29 L1696.08 1135.12 L1696.91 1132.95 L1697.73 1130.78 L1698.54 1128.6 L1699.35 1126.43 L1700.15 1124.25 L1700.94 1122.07 L1701.73 1119.89 L1702.51 1117.71 L1703.29 1115.52 L1704.06 1113.34 L1704.82 1111.15 L1705.58 1108.97 L1706.33 1106.78 L1707.07 1104.59 L1707.81 1102.4 L1708.54 1100.21 L1709.27 1098.01 L1709.99 1095.82 L1710.71 1093.62 L1711.42 1091.42 L1712.12 1089.22 L1712.82 1087.02 L1713.52 1084.82 L1714.21 1082.62 L1714.89 1080.42 L1715.57 1078.21 L1716.25 1076.01 L1716.92 1073.8 L1717.58 1071.59 L1718.24 1069.38 L1718.9 1067.17 L1719.55 1064.96 L1720.2 1062.74 L1720.84 1060.53 L1721.48 1058.31 L1722.11 1056.1 L1722.74 1053.88 L1723.37 1051.66 L1723.99 1049.44 L1724.61 1047.22 L1725.23 1045 L1725.84 1042.78 L1726.45 1040.55 L1727.05 1038.33 L1727.65 1036.1 L1728.25 1033.88 L1728.84 1031.65 L1729.43 1029.42 L1730.02 1027.19 L1730.61 1024.96 L1731.19 1022.73 L1731.77 1020.5 L1732.34 1018.26 L1732.92 1016.03 L1733.49 1013.8 L1734.06 1011.56 L1734.62 1009.32 L1735.19 1007.08 L1735.75 1004.85 L1736.31 1002.61 L1736.86 1000.37 L1737.42 998.13 L1737.97 995.88 L1738.52 993.64 L1739.07 991.4 L1739.62 989.15 L1740.16 986.91 L1740.71 984.66 L1741.25 982.42 L1741.79 980.17 L1742.33 977.92 L1742.87 975.67 L1743.4 973.43 L1743.94 971.18 L1744.47 968.93 L1745 966.67 L1745.53 964.42 L1746.05 962.17 L1746.58 959.92 L1747.1 957.66 L1747.62 955.41 L1748.14 953.16 L1748.66 950.9 L1749.18 948.65 L1749.7 946.39 L1750.21 944.13 L1750.72 941.88 L1751.23 939.62 L1751.74 937.36 L1752.25 935.1 L1752.76 932.84 L1753.26 930.58 L1753.76 928.32 L1754.26 926.07 L1754.76 923.8 L1755.26 921.54 L1755.76 919.28 L1756.25 917.02 L1756.75 914.76 L1757.24 912.5 L1757.73 910.24 L1758.22 907.97 L1758.71 905.71 L1759.19 903.45 L1759.68 901.19 L1760.16 898.92 L1760.64 896.66 L1761.12 894.4 L1761.6 892.13 L1762.08 889.87 L1762.56 887.6 L1763.03 885.34 L1763.5 883.07 L1763.98 880.81 L1764.45 878.54 L1764.92 876.28 L1765.38 874.01 L1765.85 871.75 L1766.31 869.48 L1766.78 867.22 L1767.24 864.95 L1767.7 862.68 L1768.16 860.42 L1768.62 858.15 L1769.07 855.88 L1769.53 853.61 L1769.98 851.35 L1770.44 849.08 L1770.89 846.81 L1771.34 844.54 L1771.78 842.27 L1772.23 840.01 L1772.68 837.74 L1773.12 835.47 L1773.56 833.2 L1774.01 830.93 L1774.45 828.66 L1774.89 826.39 L1775.32 824.12 L1775.76 821.85 L1776.2 819.58 L1776.63 817.31 L1777.06 815.04 L1777.49 812.77 L1777.92 810.5 L1778.35 808.22 L1778.78 805.95 L1779.21 803.68 L1779.63 801.41 L1780.05 799.14 L1780.48 796.86 L1780.9 794.59 L1781.32 792.32 L1781.74 790.05 L1782.15 787.77 L1782.57 785.5 L1782.98 783.22 L1783.4 780.95 L1783.81 778.68 L1784.22 776.4 L1784.63 774.13 L1785.04 771.85 L1785.45 769.58 L1785.86 767.3 L1786.26 765.03 L1786.66 762.75 L1787.07 760.48 L1787.47 758.2 L1787.87 755.92 L1788.27 753.65 L1788.67 751.37 L1789.06 749.09 L1789.46 746.82 L1789.86 744.54 L1790.25 742.26 L1790.64 739.98 L1791.03 737.71 L1791.42 735.43 L1791.81 733.15 L1792.2 730.87 L1792.59 728.59 L1792.97 726.31 L1793.36 724.03 L1793.74 721.75 L1794.12 719.47 L1794.5 717.19 L1794.88 714.91 L1795.26 712.63 L1795.64 710.35 L1796.02 708.07 L1796.39 705.79 L1796.77 703.51 L1797.14 701.23 L1797.52 698.95 L1797.89 696.66 L1798.26 694.38 L1798.63 692.1 L1799 689.82 L1799.36 687.54 L1799.73 685.25 L1800.1 682.97 L1800.46 680.69 L1800.82 678.4 L1801.19 676.12 L1801.55 673.83 L1801.91 671.55 L1802.27 669.27 L1802.62 666.98 L1802.98 664.7 L1803.34 662.41 L1803.69 660.13 L1804.05 657.84 L1804.4 655.55 L1804.75 653.27 L1805.11 650.98 L1805.46 648.7 L1805.81 646.41 L1806.15 644.12 L1806.5 641.83 L1806.85 639.55 L1807.19 637.26 L1807.54 634.97 L1807.88 632.68 L1808.23 630.4 L1808.57 628.11 L1808.91 625.82 L1809.25 623.53 L1809.59 621.24 L1809.93 618.95 L1810.26 616.66 L1810.6 614.37 L1810.94 612.08 L1811.27 609.79 L1811.6 607.5 L1811.94 605.21 L1812.27 602.92 L1812.6 600.63 L1812.93 598.34 L1813.26 596.05 L1813.59 593.76 L1813.92 591.46 L1814.25 589.17 L1814.57 586.88 L1814.9 584.59 L1815.22 582.29 L1815.55 580 L1815.87 577.71 L1816.2 575.41 L1816.52 573.12 L1816.84 570.83 L1817.16 568.53 L1817.49 566.24 L1817.81 563.95 L1818.13 561.65 L1818.45 559.36 L1818.77 557.07 L1819.09 554.77 L1819.41 552.48 L1819.73 550.19 L1820.05 547.89 L1820.37 545.6 L1820.7 543.3 L1821.02 541.01 L1821.34 538.72 L1821.66 536.42 L1821.98 534.13 L1822.3 531.83 L1822.62 529.54 L1822.94 527.25 L1823.26 524.95 L1823.59 522.66 L1823.91 520.37 L1824.23 518.07 L1824.56 515.78 L1824.88 513.49 L1825.21 511.19 L1825.53 508.9 L1825.86 506.61 L1826.18 504.32 L1826.51 502.02 L1826.84 499.73 L1827.17 497.44 L1827.5 495.15 L1827.83 492.86 L1828.16 490.57 L1828.49 488.28 L1828.83 485.98 L1829.16 483.69 L1829.5 481.4 L1829.83 479.11 L1830.17 476.82 L1830.51 474.54 L1830.85 472.25 L1831.19 469.96 L1831.53 467.67 L1831.88 465.38 L1832.22 463.09 L1832.57 460.81 L1832.92 458.52 L1833.26 456.23 L1833.62 453.95 L1833.97 451.66 L1834.32 449.37 L1834.68 447.09 L1835.03 444.8 L1835.39 442.52 L1835.75 440.24 L1836.12 437.95 L1836.48 435.67 L1836.85 433.39 L1837.21 431.11 L1837.58 428.82 L1837.96 426.54 L1838.33 424.26 L1838.71 421.98 L1839.08 419.7 L1839.46 417.43 L1839.85 415.15 L1840.23 412.87 L1840.62 410.59 L1841 408.32 L1841.4 406.04 L1841.79 403.76 L1842.18 401.49 L1842.58 399.21 L1842.98 396.94 L1843.38 394.67 L1843.79 392.39 L1844.19 390.12 L1844.6 387.85 L1845 385.58 L1845.41 383.31 L1845.82 381.03 L1846.23 378.76 L1846.65 376.49 L1847.06 374.22 L1847.47 371.95 L1847.88 369.68 L1848.3 367.41 L1848.71 365.14 L1849.12 362.86 L1849.53 360.59 L1849.95 358.32 L1850.36 356.05 L1850.77 353.78 L1851.18 351.5 L1851.59 349.23 L1852 346.96 L1852.41 344.68 L1852.82 342.41 L1853.22 340.14 L1853.63 337.86 L1854.03 335.58 L1854.43 333.31 L1854.83 331.03 L1855.23 328.75 L1855.62 326.47 L1856.01 324.19 L1856.4 321.91 L1856.79 319.63 L1857.18 317.35 L1857.56 315.07 L1857.94 312.79 L1858.32 310.5 L1858.69 308.21 L1859.06 305.93 L1859.42 303.64 L1859.79 301.35 L1860.15 299.06 L1860.5 296.77 L1860.85 294.47 L1861.2 292.18 L1861.54 289.88 L1861.88 287.59 L1862.21 285.29 L1862.55 282.99 L1862.87 280.69 L1863.2 278.39 L1863.52 276.09 L1863.85 273.78 L1864.17 271.48 L1864.5 269.18 L1864.82 266.88 L1865.15 264.58 L1865.48 262.27 L1865.81 259.97 L1866.15 257.67 L1866.49 255.38 L1866.84 253.08 L1867.19 250.78 L1867.55 248.49 L1867.91 246.2 L1868.28 243.91 L1868.66 241.62 L1869.05 239.34 L1869.45 237.06 L1869.86 234.78 L1870.28 232.5 L1870.71 230.23 L1871.16 227.96 L1871.61 225.69 L1872.08 223.43 L1872.56 221.17 L1873.06 218.92 L1873.57 216.67 L1874.1 214.43 L1874.65 212.19 L1875.21 209.95 L1875.79 207.72 L1876.39 205.5 L1877.01 203.28 L1877.65 201.06 L1878.3 198.86 L1878.98 196.66 L1879.68 194.46 L1880.41 192.27 L1881.15 190.09 L1881.92 187.91 L1882.72 185.75 L1883.53 183.59 L1884.38 181.43 L1885.25 179.29 L1886.14 177.15 L1887.07 175.02 L1888.02 172.9 L1889 170.78 L1890.01 168.68 L1891.05 166.58 L1892.12 164.5 L1893.23 162.42 L1894.36 160.35 L1895.53 158.29 L1896.73 156.24 L1897.96 154.21 L1899.26 152.27 L1900.64 150.48 L1902.12 148.94 L1903.75 147.73 L1905.53 146.92 L1907.5 146.58 L1909.65 146.79 L1911.88 147.48 L1914.01 148.55 L1915.93 149.91 L1917.63 151.52 L1919.12 153.34 L1920.43 155.34 L1921.6 157.47 L1922.64 159.69 L1923.58 161.98 L1924.44 164.28 L1925.26 166.58 L1926.04 168.85 L1926.78 171.11 L1927.48 173.35 L1928.15 175.57 L1928.79 177.78 L1929.4 179.99 L1929.98 182.18 L1930.54 184.37 L1931.08 186.55 L1931.6 188.73 L1932.1 190.91 L1932.59 193.09 L1933.07 195.28 L1933.53 197.48 L1933.99 199.68 L1934.45 201.89 L1934.9 204.12 L1935.35 206.36 L1935.81 208.61 L1936.27 210.89 L1936.73 213.19 L1937.21 215.51 L1937.7 217.85 L1938.2 220.23 L1938.72 222.63 L1938.66 222.6 L1940.68 234.38 L1942.61 246.15 L1944.46 257.93 L1946.23 269.7 L1947.93 281.48 L1949.57 293.25 L1951.14 305.03 L1952.67 316.8 L1954.14 328.58 L1955.57 340.35 L1956.96 352.13 L1958.31 363.9 L1959.63 375.68 L1960.92 387.46 L1962.19 399.23 L1963.43 411.01 L1964.65 422.78 L1965.86 434.56 L1967.04 446.33 L1968.22 458.11 L1969.38 469.88 L1970.53 481.66 L1971.67 493.43 L1972.8 505.21 L1973.93 516.98 L1975.05 528.76 L1976.17 540.53 L1977.28 552.31 L1978.39 564.09 L1979.5 575.86 L1980.6 587.64 L1981.7 599.41 L1982.81 611.19 L1983.91 622.96 L1985 634.74 L1986.1 646.51 L1987.2 658.29 L1988.29 670.06 L1989.39 681.84 L1990.48 693.61 L1991.57 705.39 L1992.67 717.17 L1993.76 728.94 L1994.85 740.72 L1995.95 752.49 L1997.04 764.27 L1998.14 776.04 L1999.24 787.82 L2000.34 799.59 L2001.44 811.37 L2002.55 823.14 L2003.66 834.92 L2004.78 846.69 L2005.9 858.47 L2007.04 870.24 L2008.18 882.02 L2009.34 893.8 L2010.51 905.57 L2011.7 917.35 L2012.91 929.12 L2014.14 940.9 L2015.39 952.67 L2016.67 964.45 L2017.99 976.22 L2019.33 988 L2020.72 999.77 L2022.15 1011.55 L2023.63 1023.32 L2025.16 1035.1" fill="none" stroke="#ed1c24" stroke-width="6.2" stroke-linejoin="round" stroke-linecap="butt"/>
<path d="M1238.1 1264.7L1258.5 1285.1M1238.1 1285.1L1258.5 1264.7" fill="none" stroke="#2e3192" stroke-width="5.7"/>
<path d="M1324.43 1271.6L1344.83 1292M1324.43 1292L1344.83 1271.6" fill="none" stroke="#2e3192" stroke-width="5.7"/>
<path d="M1410.76 1269.5L1431.16 1289.9M1410.76 1289.9L1431.16 1269.5" fill="none" stroke="#2e3192" stroke-width="5.7"/>
<path d="M1497.09 1265.9L1517.49 1286.3M1497.09 1286.3L1517.49 1265.9" fill="none" stroke="#2e3192" stroke-width="5.7"/>
<path d="M1583.42 1245.4L1603.82 1265.8M1583.42 1265.8L1603.82 1245.4" fill="none" stroke="#2e3192" stroke-width="5.7"/>
<path d="M1669.75 1151.5L1690.15 1171.9M1669.75 1171.9L1690.15 1151.5" fill="none" stroke="#2e3192" stroke-width="5.7"/>
<path d="M1756.08 865.3L1776.48 885.7M1756.08 885.7L1776.48 865.3" fill="none" stroke="#2e3192" stroke-width="5.7"/>
<path d="M1842.41 359.2L1862.81 379.6M1842.41 379.6L1862.81 359.2" fill="none" stroke="#2e3192" stroke-width="5.7"/>
<path d="M1928.74 177.8L1949.14 198.2M1928.74 198.2L1949.14 177.8" fill="none" stroke="#2e3192" stroke-width="5.7"/>
<path d="M2015.07 1087.8L2035.47 1108.2M2015.07 1108.2L2035.47 1087.8" fill="none" stroke="#2e3192" stroke-width="5.7"/>
<rect x="1237.45" y="1264.05" width="21.7" height="21.7" fill="none" stroke="#231f20" stroke-width="5.3"/>
<rect x="1323.78" y="1270.95" width="21.7" height="21.7" fill="none" stroke="#231f20" stroke-width="5.3"/>
<rect x="1410.11" y="1268.85" width="21.7" height="21.7" fill="none" stroke="#231f20" stroke-width="5.3"/>
<rect x="1496.44" y="1265.25" width="21.7" height="21.7" fill="none" stroke="#231f20" stroke-width="5.3"/>
<rect x="1582.77" y="1248.45" width="21.7" height="21.7" fill="none" stroke="#231f20" stroke-width="5.3"/>
<rect x="1669.1" y="1163.15" width="21.7" height="21.7" fill="none" stroke="#231f20" stroke-width="5.3"/>
<rect x="1755.43" y="852.85" width="21.7" height="21.7" fill="none" stroke="#231f20" stroke-width="5.3"/>
<rect x="1841.76" y="317.35" width="21.7" height="21.7" fill="none" stroke="#231f20" stroke-width="5.3"/>
<rect x="1928.09" y="246.15" width="21.7" height="21.7" fill="none" stroke="#231f20" stroke-width="5.3"/>
<rect x="2014.42" y="1034.55" width="21.7" height="21.7" fill="none" stroke="#231f20" stroke-width="5.3"/>
<circle cx="1248.3" cy="1274.9" r="13.9" fill="none" stroke="#ed1c24" stroke-width="5.9"/>
<circle cx="1334.63" cy="1281.8" r="13.9" fill="none" stroke="#ed1c24" stroke-width="5.9"/>
<circle cx="1420.96" cy="1279.7" r="13.9" fill="none" stroke="#ed1c24" stroke-width="5.9"/>
<circle cx="1507.29" cy="1276.1" r="13.9" fill="none" stroke="#ed1c24" stroke-width="5.9"/>
<circle cx="1593.62" cy="1259.5" r="13.9" fill="none" stroke="#ed1c24" stroke-width="5.9"/>
<circle cx="1679.95" cy="1171.3" r="13.9" fill="none" stroke="#ed1c24" stroke-width="5.9"/>
<circle cx="1766.28" cy="876.4" r="13.9" fill="none" stroke="#ed1c24" stroke-width="5.9"/>
<circle cx="1852.61" cy="344.1" r="13.9" fill="none" stroke="#ed1c24" stroke-width="5.9"/>
<circle cx="1938.94" cy="222.6" r="13.9" fill="none" stroke="#ed1c24" stroke-width="5.9"/>
<circle cx="2025.27" cy="1035.1" r="13.9" fill="none" stroke="#ed1c24" stroke-width="5.9"/>
<rect x="358.5" y="150.75" width="475" height="299" fill="#fff" stroke="#4d4d4f" stroke-width="3.1"/>
<line x1="372" y1="192.9" x2="514" y2="192.9" stroke="#231f20" stroke-width="6"/>
<line x1="372" y1="264.7" x2="514" y2="264.7" stroke="#2e3192" stroke-width="5.5"/>
<line x1="372" y1="336.3" x2="514" y2="336.3" stroke="#231f20" stroke-width="6"/>
<line x1="372" y1="408" x2="514" y2="408" stroke="#ed1c24" stroke-width="6.2"/>
<path d="M432.4 254.5L452.8 274.9M432.4 274.9L452.8 254.5" fill="none" stroke="#2e3192" stroke-width="5.7"/>
<rect x="431.75" y="325.45" width="21.7" height="21.7" fill="none" stroke="#231f20" stroke-width="5.3"/>
<circle cx="442.6" cy="408" r="13.9" fill="none" stroke="#ed1c24" stroke-width="5.9"/>
<text x="524" y="214.5" font-family="'Liberation Sans', sans-serif" font-size="56.6" fill="#231f20">given PDF</text>
<text transform="translate(542.5 295.5) scale(1.30 1)" font-family="'Liberation Serif', serif" font-size="72" font-style="italic" fill="#231f20">n</text>
<text transform="translate(605.9 299) scale(1.57 1)" font-family="'Liberation Serif', serif" font-size="71.6" fill="#231f20" stroke="#fff" stroke-width="0.8">=</text>
<text x="685" y="295.5" font-family="'Liberation Serif', serif" font-size="76.5" fill="#231f20">6</text>
<text transform="translate(542.5 367) scale(1.30 1)" font-family="'Liberation Serif', serif" font-size="72" font-style="italic" fill="#231f20">n</text>
<text transform="translate(605.9 370.5) scale(1.57 1)" font-family="'Liberation Serif', serif" font-size="71.6" fill="#231f20" stroke="#fff" stroke-width="0.8">=</text>
<text x="685" y="367" font-family="'Liberation Serif', serif" font-size="76.5" fill="#231f20">8</text>
<text transform="translate(541.5 438) scale(1.30 1)" font-family="'Liberation Serif', serif" font-size="72" font-style="italic" fill="#231f20">n</text>
<text transform="translate(603.4 441.5) scale(1.57 1)" font-family="'Liberation Serif', serif" font-size="71.6" fill="#231f20" stroke="#fff" stroke-width="0.8">=</text>
<text x="684.5" y="438" font-family="'Liberation Serif', serif" font-size="76.5" fill="#231f20">10</text>
<rect x="1286.75" y="150.75" width="425.5" height="284" fill="#fff" stroke="#4d4d4f" stroke-width="3.1"/>
<line x1="1300" y1="190.5" x2="1442" y2="190.5" stroke="#231f20" stroke-width="6"/>
<line x1="1300" y1="259.3" x2="1442" y2="259.3" stroke="#2e3192" stroke-width="5.5"/>
<line x1="1300" y1="327.6" x2="1442" y2="327.6" stroke="#231f20" stroke-width="6"/>
<line x1="1300" y1="395.8" x2="1442" y2="395.8" stroke="#ed1c24" stroke-width="6.2"/>
<path d="M1361.1 249.1L1381.5 269.5M1361.1 269.5L1381.5 249.1" fill="none" stroke="#2e3192" stroke-width="5.7"/>
<rect x="1360.45" y="316.75" width="21.7" height="21.7" fill="none" stroke="#231f20" stroke-width="5.3"/>
<circle cx="1371.3" cy="395.8" r="13.9" fill="none" stroke="#ed1c24" stroke-width="5.9"/>
<text x="1451.6" y="210" font-family="'Liberation Serif', serif" font-size="57.4" fill="#231f20">given PDF</text>
<text transform="translate(1463.3 288.75) scale(1.30 1)" font-family="'Liberation Serif', serif" font-size="72" font-style="italic" fill="#231f20">n</text>
<text transform="translate(1525.9 292.25) scale(1.57 1)" font-family="'Liberation Serif', serif" font-size="71.6" fill="#231f20" stroke="#fff" stroke-width="0.8">=</text>
<text x="1605.7" y="288.75" font-family="'Liberation Serif', serif" font-size="76.5" fill="#231f20">6</text>
<text transform="translate(1463.3 357.5) scale(1.30 1)" font-family="'Liberation Serif', serif" font-size="72" font-style="italic" fill="#231f20">n</text>
<text transform="translate(1525.9 361) scale(1.57 1)" font-family="'Liberation Serif', serif" font-size="71.6" fill="#231f20" stroke="#fff" stroke-width="0.8">=</text>
<text x="1605.7" y="357.5" font-family="'Liberation Serif', serif" font-size="76.5" fill="#231f20">8</text>
<text transform="translate(1460.8 426.25) scale(1.30 1)" font-family="'Liberation Serif', serif" font-size="72" font-style="italic" fill="#231f20">n</text>
<text transform="translate(1522.2 429.75) scale(1.57 1)" font-family="'Liberation Serif', serif" font-size="71.6" fill="#231f20" stroke="#fff" stroke-width="0.8">=</text>
<text x="1604" y="426.25" font-family="'Liberation Serif', serif" font-size="76.5" fill="#231f20">10</text>
<text transform="translate(709.6 82) scale(0.96 1.02)" font-family="'Liberation Sans', sans-serif" font-size="73" fill="#231f20" text-anchor="middle" font-weight="bold">A</text>
<text transform="translate(1634.4 85) scale(0.95 1.02)" font-family="'Liberation Serif', serif" font-size="70.5" fill="#231f20" text-anchor="middle" font-weight="bold">B</text>
<text transform="translate(301.3 1315.14) scale(0.98 1.02)" font-family="'Liberation Serif', serif" font-size="65.5" fill="#4d4d4f" stroke="#4d4d4f" stroke-width="0.7" text-anchor="end">0</text>
<text transform="translate(301.3 1183.38) scale(0.98 1.02)" font-family="'Liberation Serif', serif" font-size="65.5" fill="#4d4d4f" stroke="#4d4d4f" stroke-width="0.7" text-anchor="end">0.005</text>
<text transform="translate(301.3 1051.62) scale(0.98 1.02)" font-family="'Liberation Serif', serif" font-size="65.5" fill="#4d4d4f" stroke="#4d4d4f" stroke-width="0.7" text-anchor="end">0.01</text>
<text transform="translate(301.3 919.86) scale(0.98 1.02)" font-family="'Liberation Serif', serif" font-size="65.5" fill="#4d4d4f" stroke="#4d4d4f" stroke-width="0.7" text-anchor="end">0.015</text>
<text transform="translate(301.3 788.1) scale(0.98 1.02)" font-family="'Liberation Serif', serif" font-size="65.5" fill="#4d4d4f" stroke="#4d4d4f" stroke-width="0.7" text-anchor="end">0.02</text>
<text transform="translate(301.3 656.34) scale(0.98 1.02)" font-family="'Liberation Serif', serif" font-size="65.5" fill="#4d4d4f" stroke="#4d4d4f" stroke-width="0.7" text-anchor="end">0.025</text>
<text transform="translate(301.3 524.58) scale(0.98 1.02)" font-family="'Liberation Serif', serif" font-size="65.5" fill="#4d4d4f" stroke="#4d4d4f" stroke-width="0.7" text-anchor="end">0.03</text>
<text transform="translate(301.3 392.82) scale(0.98 1.02)" font-family="'Liberation Serif', serif" font-size="65.5" fill="#4d4d4f" stroke="#4d4d4f" stroke-width="0.7" text-anchor="end">0.035</text>
<text transform="translate(301.3 261.06) scale(0.98 1.02)" font-family="'Liberation Serif', serif" font-size="65.5" fill="#4d4d4f" stroke="#4d4d4f" stroke-width="0.7" text-anchor="end">0.04</text>
<text transform="translate(301.3 1446.9) scale(0.98 1.02)" font-family="'Liberation Serif', serif" font-size="65.5" fill="#4d4d4f" stroke="#4d4d4f" stroke-width="0.7" text-anchor="end">0.005</text>
<text transform="translate(109.8 1452.5) scale(1.24 1)" font-family="'Liberation Serif', serif" font-size="65.5" fill="#4d4d4f" stroke="#4d4d4f" stroke-width="0.3" text-anchor="start">−</text>
<text transform="translate(323.5 1507) scale(0.98 1.02)" font-family="'Liberation Serif', serif" font-size="65.5" fill="#4d4d4f" stroke="#4d4d4f" stroke-width="0.7" text-anchor="middle">0</text>
<text transform="translate(712.05 1507) scale(0.98 1.02)" font-family="'Liberation Serif', serif" font-size="65.5" fill="#4d4d4f" stroke="#4d4d4f" stroke-width="0.7" text-anchor="middle">50</text>
<text transform="translate(1101.6 1507) scale(0.98 1.02)" font-family="'Liberation Serif', serif" font-size="65.5" fill="#4d4d4f" stroke="#4d4d4f" stroke-width="0.7" text-anchor="middle">100</text>
<text transform="translate(1248 1514) scale(1 1)" font-family="'Liberation Serif', serif" font-size="66" fill="#4d4d4f" stroke="#4d4d4f" stroke-width="0" text-anchor="middle">0</text>
<text transform="translate(1637.6 1514) scale(1 1)" font-family="'Liberation Serif', serif" font-size="66" fill="#4d4d4f" stroke="#4d4d4f" stroke-width="0" text-anchor="middle">50</text>
<text transform="translate(2027.6 1514) scale(1 1)" font-family="'Liberation Serif', serif" font-size="66" fill="#4d4d4f" stroke="#4d4d4f" stroke-width="0" text-anchor="middle">100</text>
<text transform="translate(704.6 1598.8) scale(1.06 0.95)" font-family="'Liberation Serif', serif" font-size="78" fill="#231f20" text-anchor="middle" font-style="italic">x</text>
<text transform="translate(1636.6 1598.8) scale(1.06 0.95)" font-family="'Liberation Serif', serif" font-size="78" fill="#231f20" text-anchor="middle" font-style="italic">x</text>
<g transform="translate(85.3 866) rotate(-90)">
<text transform="translate(4.4 0) scale(1 1)" font-family="'Liberation Serif', serif" font-size="72" fill="#231f20" font-style="italic">p</text>
<text transform="translate(37.4 11.7) scale(1.4 1)" font-family="'Liberation Serif', serif" font-size="50" fill="#231f20" font-style="italic">n</text>
<text transform="translate(77.7 0) scale(0.8 1)" font-family="'Liberation Serif', serif" font-size="84" fill="#231f20">(</text>
<text transform="translate(104.6 0) scale(1.09 1)" font-family="'Liberation Serif', serif" font-size="74.5" fill="#231f20" font-style="italic">x</text>
<text transform="translate(145.9 0) scale(0.8 1)" font-family="'Liberation Serif', serif" font-size="84" fill="#231f20">)</text>
</g>
</svg>
</body>
</html>
